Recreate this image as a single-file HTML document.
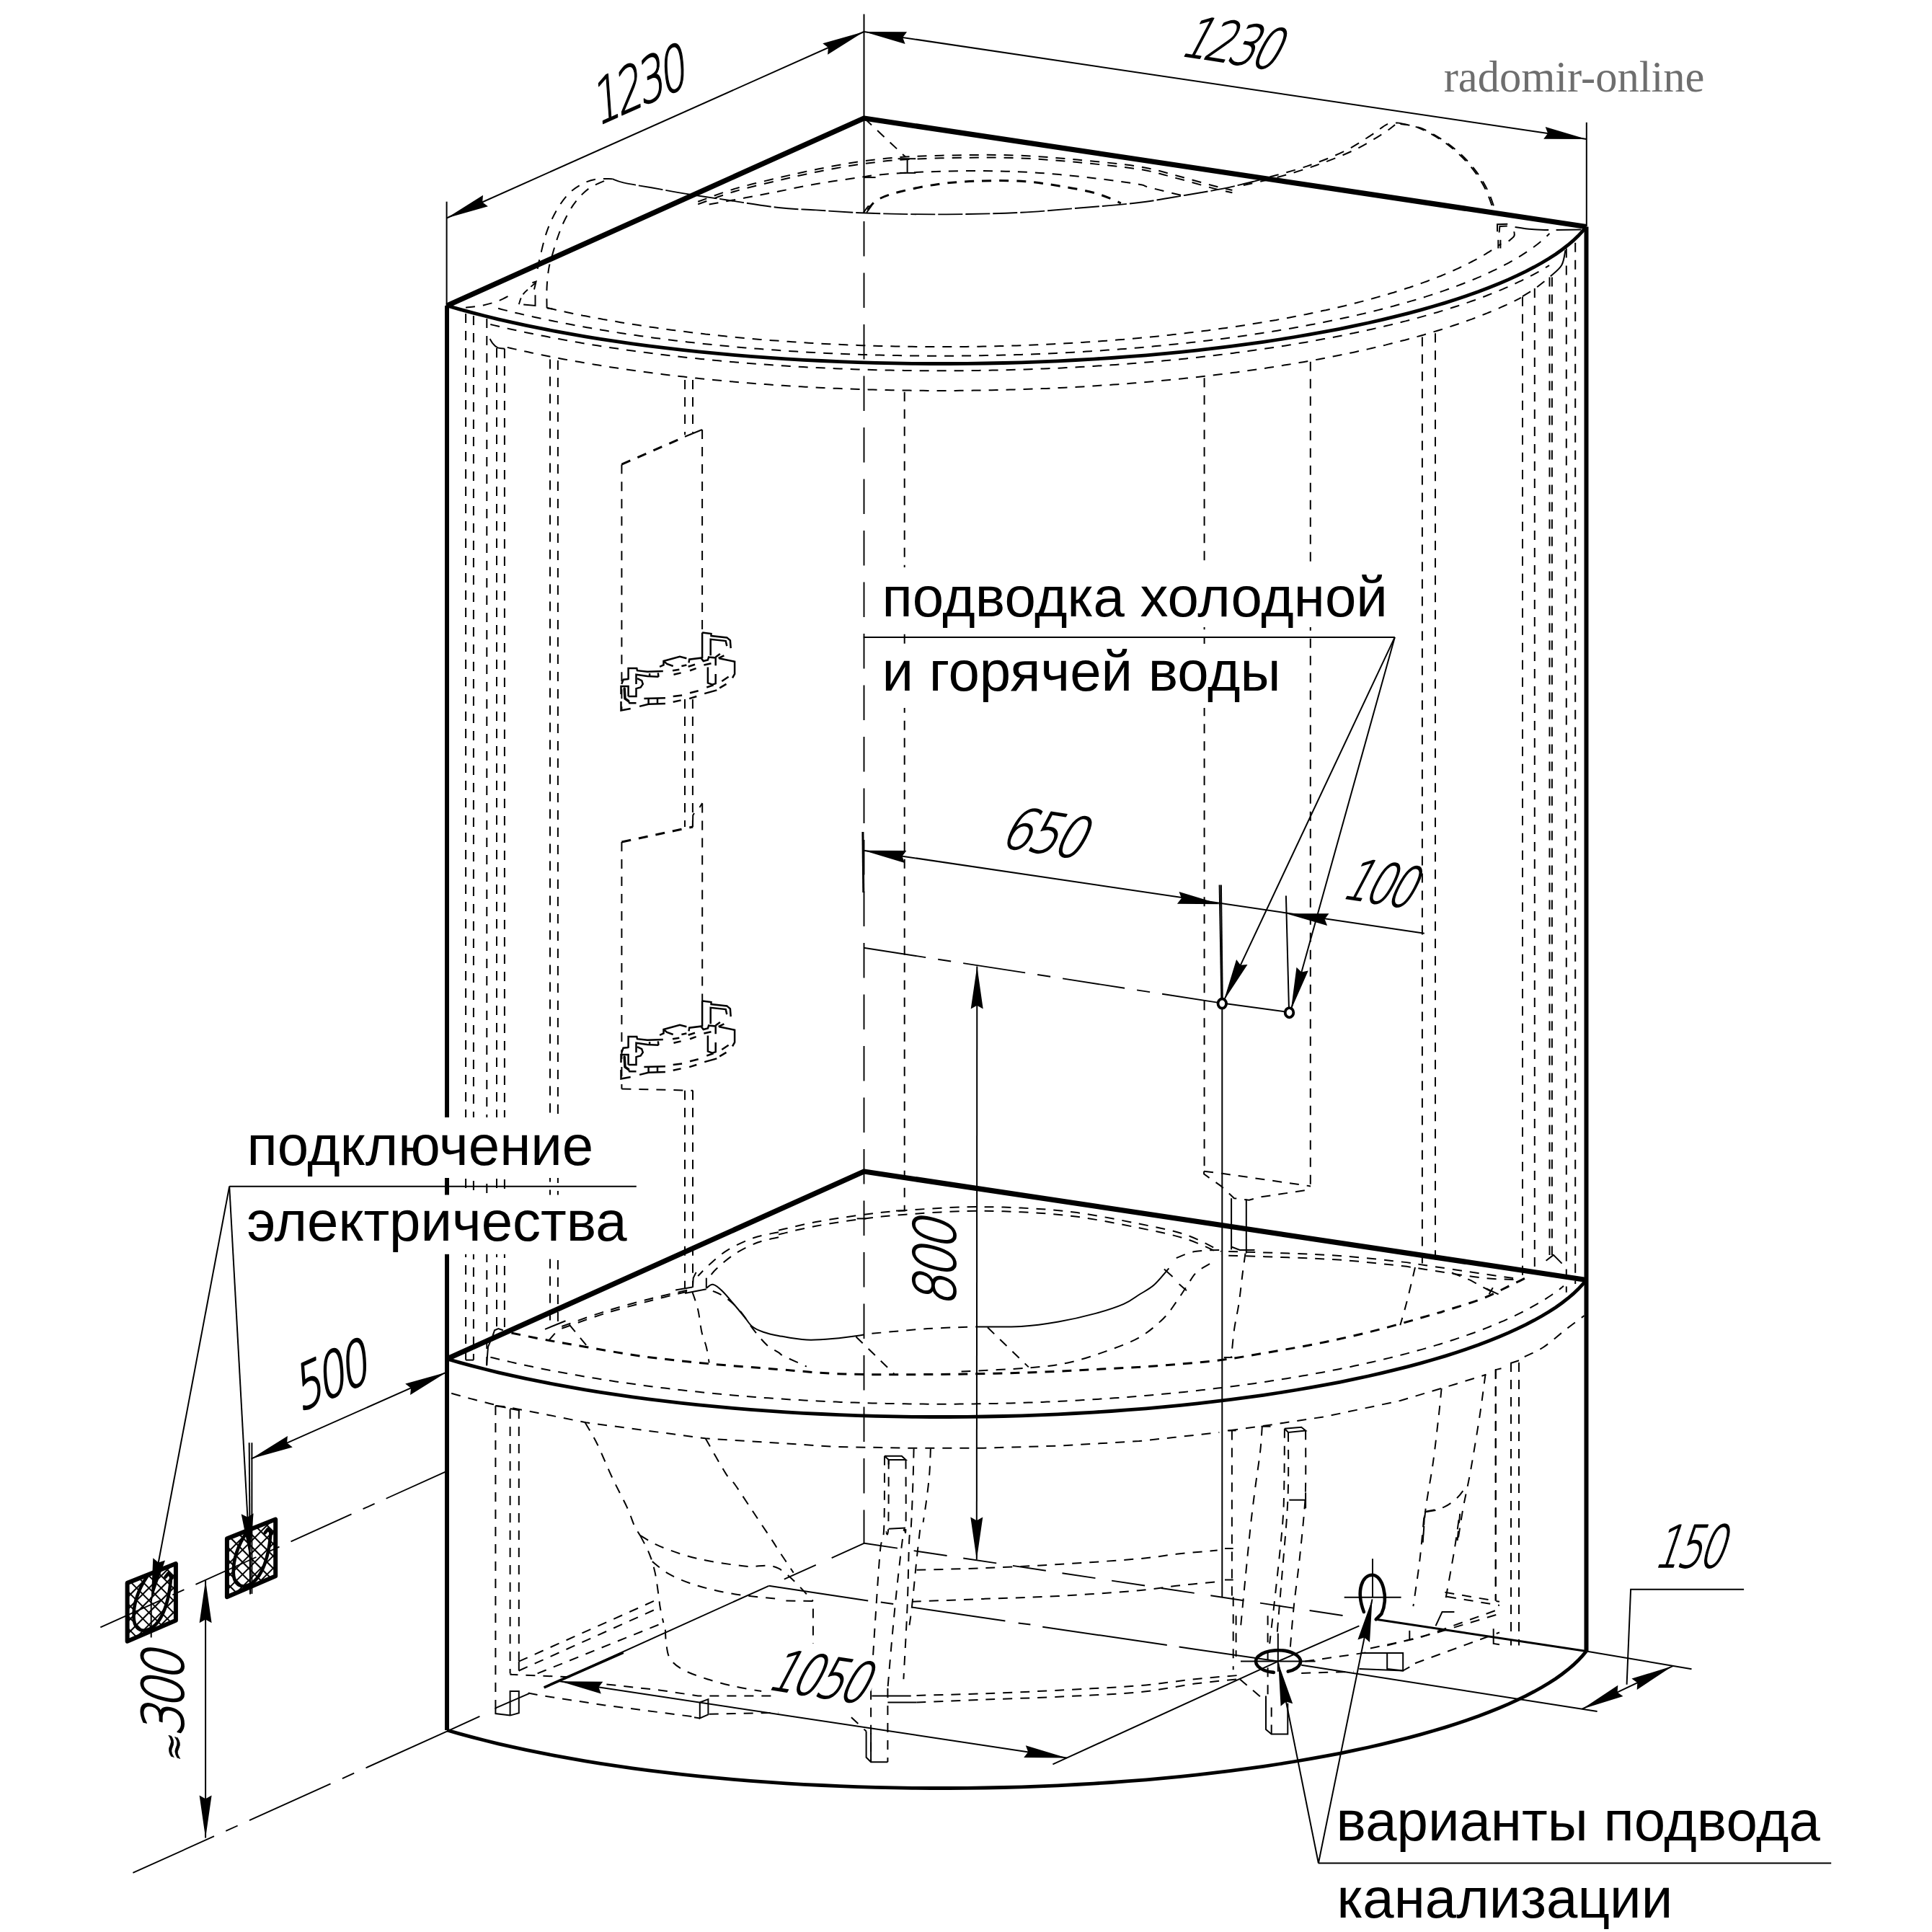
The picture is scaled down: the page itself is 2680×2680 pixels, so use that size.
<!DOCTYPE html>
<html><head><meta charset="utf-8"><title>radomir-online</title>
<style>
html,body{margin:0;padding:0;background:#fff;}
svg{display:block}
.K{fill:none;stroke:#000;stroke-width:6;stroke-linejoin:round;stroke-linecap:butt}
.KS{fill:none;stroke:#000;stroke-width:7.2;stroke-linejoin:round}
.KA{fill:none;stroke:#000;stroke-width:4.8}
.T{fill:none;stroke:#000;stroke-width:2}
.DL{fill:none;stroke:#000;stroke-width:1.9;stroke-dasharray:34 4}
.DS{fill:none;stroke:#000;stroke-width:1.9;stroke-dasharray:9 6}
.M{fill:none;stroke:#000;stroke-width:3.5;stroke-linecap:round;stroke-linejoin:round}
.D{fill:none;stroke:#000;stroke-width:2;stroke-dasharray:13 11}
.DB{fill:none;stroke:#000;stroke-width:3;stroke-dasharray:13 11}
.C{fill:none;stroke:#000;stroke-width:1.9;stroke-dasharray:48.5 23}
.T2{fill:none;stroke:#000;stroke-width:3}
.T3{fill:none;stroke:#000;stroke-width:3.6}
.C2{fill:none;stroke:#000;stroke-width:1.9;stroke-dasharray:125 22}
.T25{fill:none;stroke:#000;stroke-width:2.5}
.M4{fill:none;stroke:#000;stroke-width:4.6;stroke-linecap:round}
.M5{fill:none;stroke:#000;stroke-width:4.6;stroke-linecap:round;stroke-linejoin:round}
.CS{fill:none;stroke:#000;stroke-width:1.9;stroke-dasharray:92.1 17.6 17.6 17.6}
.CF{fill:none;stroke:#000;stroke-width:1.9;stroke-dasharray:123.5 17.9 17.9 17.9}
.CL{fill:none;stroke:#000;stroke-width:1.9;stroke-dasharray:87 17.2 18.2 17.2}
.CW{fill:none;stroke:#000;stroke-width:1.9;stroke-dasharray:46.5 22.9}
.CU{fill:none;stroke:#000;stroke-width:1.9;stroke-dasharray:49.7 24}
.A{fill:#000;stroke:none}
.W{fill:#fff;stroke:none}
.lbl{font-family:"Liberation Sans",sans-serif;fill:#000}
.dim{font-family:"DejaVu Sans","DejaVu Sans Light",sans-serif;font-weight:200;fill:#000;stroke:#000;stroke-linejoin:round;vector-effect:non-scaling-stroke;text-rendering:geometricPrecision}
.wm{font-family:"Liberation Serif",serif;fill:#6e6e6e}
</style></head><body>
<svg width="2680" height="2680" viewBox="0 0 2680 2680">
<rect width="2680" height="2680" fill="#fff"/>
<path class="D" d="M745.6,372.9 C746.3,369.9 747.4,363.4 749.5,354.8 C751.7,346.2 754.9,331.5 758.6,321.2 C762.2,310.8 766.8,301.1 771.5,292.7 C776.3,284.3 781.4,276.7 787.0,270.7 C792.6,264.7 798.7,260.1 805.2,256.5 C811.6,252.8 818.5,250.1 825.9,248.7 C833.2,247.3 845.3,248.3 849.2,248.2"/>
<path class="D" d="M758.6,427.3 C758.6,422.5 758.1,407.9 758.6,398.8 C759.0,389.7 760.0,380.3 761.2,372.9 C762.4,365.6 763.9,361.7 765.8,354.8 C767.8,347.9 770.1,339.3 772.8,331.5 C775.5,323.7 778.2,316.0 781.9,308.2 C785.5,300.5 790.5,291.4 794.8,284.9 C799.1,278.5 803.4,273.7 807.7,269.4 C812.1,265.1 815.5,262.2 820.7,259.0 C825.9,255.9 835.8,252.1 838.8,250.8"/>
<path class="T" d="M758.6,427.3 L766.3,428.6"/>
<path class="T" d="M726.2,422.6 L742.5,423.9 L742.5,409.2"/>
<path class="DS" d="M719.8,422.1 C720.6,419.9 722.3,413.0 724.9,409.2 C727.5,405.3 732.3,401.6 735.3,398.8 C738.3,396.0 741.7,393.4 743.0,392.3"/>
<path class="T" d="M738.4,392.3 L743.6,390.5 L741.0,401.4"/>
<path class="D" d="M646.0,426.7 C650.1,426.2 663.0,424.9 670.6,423.4 C678.1,421.8 685.0,419.8 691.3,417.4 C697.5,415.1 705.3,410.5 708.1,409.2"/>
<path class="DL" d="M849.2,248.2 C851.7,249.0 855.6,251.3 864.7,253.4 C873.7,255.4 888.4,257.7 903.5,260.3 C918.6,263.0 938.0,266.6 955.3,269.4 C972.5,272.2 986.2,274.1 1007.0,277.2 C1027.8,280.3 1059.2,285.7 1080.0,288.0 C1100.8,290.4 1112.8,290.2 1131.8,291.4 C1150.7,292.6 1172.3,294.3 1193.9,295.3 C1215.4,296.2 1237.0,296.8 1261.2,297.1 C1285.3,297.4 1312.9,297.5 1338.8,297.1 C1364.7,296.7 1390.6,296.1 1416.4,294.8 C1442.3,293.4 1466.8,291.1 1494.1,288.8 C1521.3,286.5 1554.9,284.1 1580.0,281.0 C1605.1,278.0 1625.3,273.9 1644.7,270.7 C1664.1,267.5 1680.5,264.9 1696.5,261.6 C1712.4,258.4 1729.7,254.0 1740.5,251.3 C1751.2,248.6 1757.7,246.5 1761.2,245.6"/>
<path class="D" d="M968.2,279.8 C976.8,276.7 1001.3,267.2 1020.0,261.6 C1038.6,256.1 1063.5,250.6 1080.0,246.6 C1096.5,242.7 1105.9,240.6 1118.8,237.8 C1131.8,235.1 1144.3,232.5 1157.6,230.1 C1171.0,227.6 1182.7,225.4 1199.0,223.3 C1215.4,221.3 1232.7,219.0 1256.0,217.6 C1279.3,216.3 1312.1,215.4 1338.8,215.1 C1365.5,214.7 1390.6,214.7 1416.4,215.8 C1442.3,216.9 1466.8,219.0 1494.1,221.5 C1521.3,224.1 1557.1,227.4 1580.0,231.1 C1602.9,234.8 1614.5,239.1 1631.8,243.5 C1649.0,248.0 1670.6,254.4 1683.5,257.8 C1696.5,261.1 1705.1,262.7 1709.4,263.7"/>
<path class="D" d="M968.2,283.4 C976.8,280.4 1001.3,270.8 1020.0,265.3 C1038.6,259.7 1063.5,254.2 1080.0,250.2 C1096.5,246.3 1105.9,244.2 1118.8,241.4 C1131.8,238.7 1144.3,236.1 1157.6,233.7 C1171.0,231.3 1182.7,229.0 1199.0,227.0 C1215.4,224.9 1232.7,222.6 1256.0,221.3 C1279.3,219.9 1312.1,219.0 1338.8,218.7 C1365.5,218.4 1390.6,218.4 1416.4,219.5 C1442.3,220.5 1466.8,222.6 1494.1,225.1 C1521.3,227.7 1557.1,231.1 1580.0,234.7 C1602.9,238.4 1614.5,242.7 1631.8,247.1 C1649.0,251.6 1670.6,258.0 1683.5,261.4 C1696.5,264.7 1705.1,266.3 1709.4,267.3"/>
<path class="D" d="M983.7,283.6 C991.9,282.1 1016.9,277.6 1032.9,274.6 C1048.9,271.6 1063.5,268.8 1080.0,265.5 C1096.5,262.3 1113.6,258.3 1131.8,255.2 C1149.9,252.0 1173.6,248.8 1188.7,246.6 C1203.8,244.5 1205.9,243.6 1222.3,242.2 C1238.7,240.8 1263.3,239.2 1287.0,238.3 C1310.8,237.5 1338.8,236.8 1364.7,237.0 C1390.6,237.3 1416.4,238.2 1442.3,239.9 C1468.2,241.6 1497.0,244.8 1520.0,247.4 C1542.9,250.0 1567.8,253.7 1580.0,255.7 C1592.2,257.7 1582.2,256.8 1592.9,259.6 C1603.7,262.4 1636.1,270.3 1644.7,272.5"/>
<path class="T" d="M1199.0,246.1 L1214.6,246.1"/>
<path class="D" d="M1199.6,164.6 L1256.0,217.6"/>
<path class="T" d="M1258.6,220.2 L1258.6,239.6"/>
<path class="T" d="M1245.6,220.2 L1270.2,220.2"/>
<path class="T" d="M1248.2,239.9 L1270.2,239.9"/>
<path class="DB" d="M1203.7,291.4 C1205.9,289.0 1209.7,281.4 1217.2,277.2 C1224.6,272.9 1234.4,269.6 1248.2,266.0 C1262.0,262.5 1282.7,258.1 1300.0,255.7 C1317.2,253.2 1332.3,252.0 1351.7,251.3 C1371.1,250.6 1397.0,250.2 1416.4,251.3 C1435.8,252.4 1450.9,254.9 1468.2,257.8 C1485.5,260.6 1505.5,264.1 1520.0,268.1 C1534.4,272.1 1549.1,279.5 1554.9,281.8"/>
<path class="T" d="M1197.8,294.8 L1204.2,286.2 L1208.1,286.2 L1202.2,294.8"/>
<path class="D" d="M1761.2,245.6 C1769.8,243.1 1795.7,236.5 1812.9,230.6 C1830.2,224.6 1849.6,217.2 1864.7,209.9 C1879.8,202.5 1893.6,192.8 1903.5,186.6 C1913.4,180.3 1918.1,175.0 1924.2,172.3 C1930.3,169.7 1937.6,170.8 1940.2,170.5"/>
<path class="D" d="M1724.9,257.0 C1732.7,255.2 1754.7,250.7 1771.5,246.1 C1788.3,241.5 1808.2,235.5 1825.9,229.3 C1843.5,223.0 1862.5,215.7 1877.6,208.6 C1892.7,201.5 1906.9,192.5 1916.4,186.6 C1926.0,180.7 1932.0,175.4 1935.1,173.1"/>
<path class="D" d="M1940.2,170.5 C1944.9,171.7 1958.4,173.6 1968.2,177.5 C1978.0,181.5 1989.8,188.1 1999.3,194.3 C2008.7,200.6 2017.4,207.7 2025.1,215.1 C2032.9,222.4 2039.8,230.1 2045.8,238.3 C2051.9,246.5 2057.1,255.4 2061.4,264.2 C2065.7,273.1 2070.0,286.9 2071.7,291.4"/>
<path class="D" d="M1942.6,171.9 C1947.2,172.9 1960.7,173.8 1970.5,177.5 C1980.4,181.3 1992.1,188.1 2001.6,194.3 C2011.1,200.6 2019.7,207.7 2027.5,215.1 C2035.2,222.4 2042.1,230.1 2048.2,238.3 C2054.2,246.5 2059.4,255.4 2063.7,264.2 C2068.0,273.1 2072.3,286.9 2074.0,291.4"/>
<path class="T" d="M2077.0,321.2 L2077.0,311.3 L2091.3,310.8"/>
<path class="T" d="M2079.6,322.5 L2080.4,313.9 L2090.8,313.4"/>
<path class="T" d="M2078.3,332.8 L2078.3,344.5"/>
<path class="T" d="M2081.4,332.8 L2081.4,344.5"/>
<path class="T" d="M2100.3,321.2 C2100.3,322.2 2101.6,325.4 2100.3,327.6 C2099.0,329.9 2093.9,333.5 2092.6,334.6"/>
<path class="T" d="M2101.6,314.9 C2105.5,315.5 2117.2,317.4 2124.9,318.1 C2132.7,318.7 2144.3,318.9 2148.2,319.1"/>
<path class="T" d="M2158.6,319.1 L2193.5,318.6"/>
<path class="D" d="M759.1,427.1 L763.5,428.1 L767.9,429.1 L772.3,430.1 L776.7,431.1 L781.2,432.0 L785.7,433.0 L790.2,434.0 L794.7,434.9 L799.3,435.8 L803.9,436.7 L808.5,437.7 L813.2,438.6 L817.8,439.5 L822.5,440.4 L827.2,441.2 L832.0,442.1 L836.7,443.0 L841.5,443.8 L846.3,444.7 L851.1,445.5 L856.0,446.3 L860.9,447.2 L865.8,448.0 L870.7,448.8 L875.6,449.6 L880.6,450.3 L885.6,451.1 L890.6,451.9 L895.6,452.6 L900.6,453.4 L905.7,454.1 L910.8,454.8 L915.9,455.6 L921.0,456.3 L926.1,457.0 L931.3,457.7 L936.5,458.3 L941.7,459.0 L946.9,459.7 L952.1,460.3 L957.4,461.0 L962.7,461.6 L967.9,462.2 L973.2,462.8 L978.6,463.5 L983.9,464.0 L989.2,464.6 L994.6,465.2 L1000.0,465.8 L1005.4,466.3 L1010.8,466.9 L1016.2,467.4 L1021.7,467.9 L1027.1,468.4 L1032.6,469.0 L1038.1,469.4 L1043.6,469.9 L1049.1,470.4 L1054.6,470.9 L1060.1,471.3 L1065.7,471.8 L1071.2,472.2 L1076.8,472.6 L1082.4,473.0 L1088.0,473.5 L1093.6,473.8 L1099.2,474.2 L1104.8,474.6 L1110.5,475.0 L1116.1,475.3 L1121.8,475.7 L1127.4,476.0 L1133.1,476.3 L1138.8,476.6 L1144.5,476.9 L1150.2,477.2 L1155.9,477.5 L1161.6,477.8 L1167.3,478.0 L1173.0,478.3 L1178.7,478.5 L1184.5,478.7 L1190.2,479.0 L1196.0,479.2 L1201.7,479.4 L1207.5,479.5 L1213.3,479.7 L1219.0,479.9 L1224.8,480.0 L1230.6,480.2 L1236.4,480.3 L1242.1,480.4 L1247.9,480.6 L1253.7,480.7 L1259.5,480.7 L1265.3,480.8 L1271.1,480.9 L1276.9,481.0 L1282.7,481.0 L1288.5,481.0 L1294.3,481.1 L1300.1,481.1 L1305.9,481.1 L1311.7,481.1 L1317.5,481.1 L1323.3,481.0 L1329.1,481.0 L1334.9,481.0 L1340.7,480.9 L1346.5,480.8 L1352.3,480.7 L1358.1,480.7 L1363.9,480.6 L1369.7,480.4 L1375.5,480.3 L1381.2,480.2 L1387.0,480.0 L1392.8,479.9 L1398.6,479.7 L1404.3,479.6 L1410.1,479.4 L1415.8,479.2 L1421.6,479.0 L1427.3,478.8 L1433.1,478.5 L1438.8,478.3 L1444.5,478.0 L1450.2,477.8 L1455.9,477.5 L1461.6,477.2 L1467.3,476.9 L1473.0,476.6 L1478.7,476.3 L1484.4,476.0 L1490.0,475.7 L1495.7,475.3 L1501.3,475.0 L1506.9,474.6 L1512.6,474.2 L1518.2,473.9 L1523.8,473.5 L1529.4,473.1 L1534.9,472.7 L1540.5,472.2 L1546.1,471.8 L1551.6,471.3 L1557.1,470.9 L1562.7,470.4 L1568.2,470.0 L1573.7,469.5 L1579.1,469.0 L1584.6,468.5 L1590.1,468.0 L1595.5,467.4 L1600.9,466.9 L1606.3,466.4 L1611.7,465.8 L1617.1,465.2 L1622.5,464.7 L1627.8,464.1 L1633.1,463.5 L1638.4,462.9 L1643.7,462.3 L1649.0,461.6 L1654.3,461.0 L1659.5,460.4 L1664.8,459.7 L1670.0,459.1 L1675.2,458.4 L1680.3,457.7 L1685.5,457.0 L1690.6,456.3 L1695.8,455.6 L1700.9,454.9 L1705.9,454.2 L1711.0,453.4 L1716.0,452.7 L1721.0,451.9 L1726.0,451.2 L1731.0,450.4 L1736.0,449.6 L1740.9,448.8 L1745.8,448.0 L1750.7,447.2 L1755.6,446.4 L1760.4,445.5 L1765.2,444.7 L1770.1,443.9 L1774.8,443.0 L1779.6,442.1 L1784.3,441.3 L1789.0,440.4 L1793.7,439.5 L1798.4,438.6 L1803.0,437.7 L1807.6,436.8 L1812.2,435.9 L1816.7,434.9 L1821.3,434.0 L1825.8,433.1 L1830.3,432.1 L1834.7,431.1 L1839.2,430.2 L1843.6,429.2 L1847.9,428.2 L1852.3,427.2 L1856.6,426.2 L1860.9,425.2 L1865.2,424.2 L1869.4,423.1 L1873.6,422.1 L1877.8,421.0 L1882.0,420.0 L1886.1,418.9 L1890.2,417.9 L1894.2,416.8 L1898.3,415.7 L1902.3,414.6 L1906.3,413.5 L1910.2,412.4 L1914.1,411.3 L1918.0,410.2 L1921.9,409.1 L1925.7,408.0 L1929.5,406.8 L1933.3,405.7 L1937.0,404.5 L1940.7,403.4 L1944.4,402.2 L1948.0,401.0 L1951.6,399.8 L1955.2,398.7 L1958.8,397.5 L1962.3,396.3 L1965.7,395.1 L1969.2,393.8 L1972.6,392.6 L1976.0,391.4 L1979.3,390.2 L1982.6,388.9 L1985.9,387.7 L1989.2,386.4 L1992.4,385.2 L1995.6,383.9 L1998.7,382.7 L2001.8,381.4 L2004.9,380.1 L2007.9,378.8 L2010.9,377.5 L2013.9,376.3 L2016.8,375.0 L2019.7,373.6 L2022.6,372.3 L2025.4,371.0 L2028.2,369.7 L2031.0,368.4 L2033.7,367.0 L2036.4,365.7 L2039.0,364.4 L2041.6,363.0 L2044.2,361.7 L2046.7,360.3 L2049.2,359.0 L2051.7,357.6 L2054.1,356.2 L2056.5,354.9 L2058.9,353.5 L2061.2,352.1 L2063.4,350.7 L2065.7,349.3 L2067.9,347.9 L2070.0,346.5 L2072.2,345.1 L2074.3,343.7 L2076.3,342.3 L2078.3,340.9 L2080.3,339.5 L2082.2,338.1"/>
<path class="D" d="M691.1,427.8 L695.4,429.0 L699.8,430.1 L704.3,431.2 L708.7,432.3 L713.2,433.4 L717.8,434.4 L722.3,435.5 L726.9,436.6 L731.5,437.6 L736.2,438.7 L740.8,439.7 L745.5,440.7 L750.3,441.8 L755.0,442.8 L759.8,443.8 L764.6,444.8 L769.4,445.8 L774.3,446.7 L779.2,447.7 L784.1,448.7 L789.0,449.6 L794.0,450.6 L799.0,451.5 L804.0,452.4 L809.1,453.3 L814.1,454.2 L819.2,455.1 L824.3,456.0 L829.5,456.9 L834.6,457.8 L839.8,458.6 L845.0,459.5 L850.3,460.3 L855.5,461.1 L860.8,462.0 L866.1,462.8 L871.4,463.6 L876.8,464.4 L882.1,465.1 L887.5,465.9 L892.9,466.7 L898.3,467.4 L903.8,468.2 L909.2,468.9 L914.7,469.6 L920.2,470.3 L925.8,471.0 L931.3,471.7 L936.9,472.4 L942.4,473.1 L948.0,473.7 L953.7,474.4 L959.3,475.0 L964.9,475.7 L970.6,476.3 L976.3,476.9 L982.0,477.5 L987.7,478.1 L993.4,478.6 L999.2,479.2 L1004.9,479.8 L1010.7,480.3 L1016.5,480.9 L1022.3,481.4 L1028.1,481.9 L1034.0,482.4 L1039.8,482.9 L1045.7,483.4 L1051.6,483.8 L1057.4,484.3 L1063.3,484.8 L1069.3,485.2 L1075.2,485.6 L1081.1,486.0 L1087.1,486.4 L1093.0,486.8 L1099.0,487.2 L1104.9,487.6 L1110.9,488.0 L1116.9,488.3 L1122.9,488.7 L1129.0,489.0 L1135.0,489.3 L1141.0,489.6 L1147.0,489.9 L1153.1,490.2 L1159.2,490.5 L1165.2,490.7 L1171.3,491.0 L1177.4,491.2 L1183.4,491.5 L1189.5,491.7 L1195.6,491.9 L1201.7,492.1 L1207.8,492.3 L1213.9,492.4 L1220.1,492.6 L1226.2,492.7 L1232.3,492.9 L1238.4,493.0 L1244.5,493.1 L1250.7,493.2 L1256.8,493.3 L1263.0,493.4 L1269.1,493.5 L1275.2,493.6 L1281.4,493.6 L1287.5,493.7 L1293.7,493.7 L1299.8,493.7 L1306.0,493.7 L1312.1,493.7 L1318.2,493.7 L1324.4,493.7 L1330.5,493.6 L1336.7,493.6 L1342.8,493.5 L1349.0,493.4 L1355.1,493.3 L1361.2,493.2 L1367.4,493.1 L1373.5,493.0 L1379.6,492.9 L1385.7,492.8 L1391.9,492.6 L1398.0,492.4 L1404.1,492.3 L1410.2,492.1 L1416.3,491.9 L1422.4,491.7 L1428.5,491.5 L1434.5,491.2 L1440.6,491.0 L1446.7,490.7 L1452.7,490.5 L1458.8,490.2 L1464.8,489.9 L1470.9,489.6 L1476.9,489.3 L1482.9,489.0 L1488.9,488.7 L1494.9,488.3 L1500.9,488.0 L1506.9,487.6 L1512.9,487.2 L1518.9,486.9 L1524.8,486.5 L1530.8,486.1 L1536.7,485.6 L1542.6,485.2 L1548.5,484.8 L1554.4,484.3 L1560.3,483.9 L1566.2,483.4 L1572.0,482.9 L1577.9,482.4 L1583.7,481.9 L1589.5,481.4 L1595.3,480.9 L1601.1,480.3 L1606.9,479.8 L1612.6,479.2 L1618.4,478.7 L1624.1,478.1 L1629.8,477.5 L1635.5,476.9 L1641.2,476.3 L1646.8,475.7 L1652.5,475.1 L1658.1,474.4 L1663.7,473.8 L1669.3,473.1 L1674.9,472.4 L1680.5,471.8 L1686.0,471.1 L1691.5,470.4 L1697.0,469.7 L1702.5,468.9 L1708.0,468.2 L1713.4,467.5 L1718.8,466.7 L1724.2,466.0 L1729.6,465.2 L1734.9,464.4 L1740.3,463.6 L1745.6,462.8 L1750.9,462.0 L1756.2,461.2 L1761.4,460.4 L1766.6,459.5 L1771.8,458.7 L1777.0,457.8 L1782.2,456.9 L1787.3,456.1 L1792.4,455.2 L1797.5,454.3 L1802.6,453.4 L1807.6,452.5 L1812.6,451.5 L1817.6,450.6 L1822.5,449.7 L1827.5,448.7 L1832.4,447.8 L1837.3,446.8 L1842.1,445.8 L1846.9,444.8 L1851.7,443.8 L1856.5,442.8 L1861.3,441.8 L1866.0,440.8 L1870.7,439.8 L1875.3,438.7 L1880.0,437.7 L1884.6,436.6 L1889.2,435.6 L1893.7,434.5 L1898.2,433.4 L1902.7,432.3 L1907.2,431.2 L1911.6,430.1 L1916.0,429.0 L1920.4,427.9 L1924.7,426.8 L1929.0,425.6 L1933.3,424.5 L1937.5,423.3 L1941.8,422.2 L1945.9,421.0 L1950.1,419.8 L1954.2,418.6 L1958.3,417.4 L1962.3,416.3 L1966.4,415.0 L1970.4,413.8 L1974.3,412.6 L1978.2,411.4 L1982.1,410.1 L1986.0,408.9 L1989.8,407.7 L1993.6,406.4 L1997.3,405.1 L2001.1,403.9 L2004.7,402.6 L2008.4,401.3 L2012.0,400.0 L2015.6,398.7 L2019.1,397.4 L2022.6,396.1 L2026.1,394.8 L2029.5,393.5 L2032.9,392.1 L2036.3,390.8 L2039.6,389.5 L2042.9,388.1 L2046.2,386.8 L2049.4,385.4 L2052.6,384.1 L2055.7,382.7 L2058.8,381.3 L2061.9,379.9 L2064.9,378.5 L2067.9,377.1 L2070.9,375.7 L2073.8,374.3 L2076.7,372.9 L2079.5,371.5 L2082.3,370.1 L2085.1,368.7 L2087.8,367.2 L2090.5,365.8 L2093.2,364.4 L2095.8,362.9 L2098.3,361.5 L2100.9,360.0 L2103.4,358.6 L2105.8,357.1 L2108.2,355.6 L2110.6,354.2 L2112.9,352.7 L2115.2,351.2 L2117.5,349.7 L2119.7,348.2 L2121.8,346.7 L2124.0,345.2 L2126.1,343.7 L2128.1,342.2 L2130.1,340.7 L2132.1,339.2 L2134.0,337.7 L2135.9,336.2 L2137.7,334.7 L2139.5,333.1 L2141.3,331.6 L2143.0,330.1 L2144.7,328.6 L2146.3,327.0 L2147.9,325.5 L2149.4,323.9"/>
<path class="D" d="M680.3,450.0 L685.0,451.1 L689.7,452.2 L694.5,453.3 L699.3,454.5 L704.1,455.6 L709.0,456.7 L713.9,457.8 L718.8,458.8 L723.8,459.9 L728.7,461.0 L733.7,462.0 L738.8,463.1 L743.8,464.1 L748.9,465.1 L754.1,466.1 L759.2,467.1 L764.4,468.1 L769.6,469.1 L774.8,470.1 L780.1,471.1 L785.4,472.0 L790.7,473.0 L796.0,473.9 L801.4,474.8 L806.7,475.8 L812.2,476.7 L817.6,477.6 L823.0,478.5 L828.5,479.3 L834.0,480.2 L839.6,481.1 L845.1,481.9 L850.7,482.7 L856.3,483.6 L861.9,484.4 L867.5,485.2 L873.2,486.0 L878.9,486.8 L884.6,487.6 L890.3,488.3 L896.1,489.1 L901.8,489.8 L907.6,490.6 L913.4,491.3 L919.3,492.0 L925.1,492.7 L931.0,493.4 L936.9,494.1 L942.8,494.7 L948.7,495.4 L954.6,496.1 L960.6,496.7 L966.5,497.3 L972.5,497.9 L978.5,498.5 L984.6,499.1 L990.6,499.7 L996.7,500.3 L1002.7,500.9 L1008.8,501.4 L1014.9,501.9 L1021.0,502.5 L1027.1,503.0 L1033.3,503.5 L1039.4,504.0 L1045.6,504.5 L1051.8,504.9 L1058.0,505.4 L1064.2,505.8 L1070.4,506.3 L1076.6,506.7 L1082.9,507.1 L1089.1,507.5 L1095.4,507.9 L1101.7,508.3 L1107.9,508.7 L1114.2,509.0 L1120.5,509.4 L1126.8,509.7 L1133.2,510.0 L1139.5,510.3 L1145.8,510.6 L1152.2,510.9 L1158.5,511.2 L1164.9,511.5 L1171.3,511.7 L1177.6,512.0 L1184.0,512.2 L1190.4,512.4 L1196.8,512.6 L1203.2,512.8 L1209.6,513.0 L1216.0,513.2 L1222.4,513.3 L1228.8,513.5 L1235.2,513.6 L1241.7,513.7 L1248.1,513.8 L1254.5,513.9 L1260.9,514.0 L1267.4,514.1 L1273.8,514.2 L1280.2,514.2 L1286.7,514.3 L1293.1,514.3 L1299.6,514.3 L1306.0,514.3 L1312.4,514.3 L1318.9,514.3 L1325.3,514.3 L1331.8,514.2 L1338.2,514.2 L1344.6,514.1 L1351.1,514.0 L1357.5,513.9 L1363.9,513.8 L1370.3,513.7 L1376.8,513.6 L1383.2,513.5 L1389.6,513.3 L1396.0,513.2 L1402.4,513.0 L1408.8,512.8 L1415.2,512.6 L1421.6,512.4 L1428.0,512.2 L1434.4,512.0 L1440.7,511.7 L1447.1,511.5 L1453.4,511.2 L1459.8,510.9 L1466.1,510.7 L1472.5,510.4 L1478.8,510.0 L1485.1,509.7 L1491.4,509.4 L1497.7,509.0 L1504.0,508.7 L1510.3,508.3 L1516.6,507.9 L1522.8,507.5 L1529.1,507.1 L1535.3,506.7 L1541.5,506.3 L1547.7,505.9 L1554.0,505.4 L1560.1,505.0 L1566.3,504.5 L1572.5,504.0 L1578.6,503.5 L1584.8,503.0 L1590.9,502.5 L1597.0,502.0 L1603.1,501.4 L1609.2,500.9 L1615.2,500.3 L1621.3,499.7 L1627.3,499.2 L1633.3,498.6 L1639.3,498.0 L1645.3,497.4 L1651.3,496.7 L1657.2,496.1 L1663.2,495.4 L1669.1,494.8 L1675.0,494.1 L1680.9,493.4 L1686.7,492.7 L1692.6,492.0 L1698.4,491.3 L1704.2,490.6 L1710.0,489.9 L1715.7,489.1 L1721.5,488.4 L1727.2,487.6 L1732.9,486.8 L1738.6,486.0 L1744.2,485.2 L1749.9,484.4 L1755.5,483.6 L1761.1,482.8 L1766.6,482.0 L1772.2,481.1 L1777.7,480.2 L1783.2,479.4 L1788.7,478.5 L1794.1,477.6 L1799.6,476.7 L1805.0,475.8 L1810.3,474.9 L1815.7,474.0 L1821.0,473.0 L1826.3,472.1 L1831.6,471.1 L1836.8,470.1 L1842.1,469.2 L1847.3,468.2 L1852.4,467.2 L1857.6,466.2 L1862.7,465.2 L1867.8,464.1 L1872.8,463.1 L1877.9,462.1 L1882.9,461.0 L1887.8,460.0 L1892.8,458.9 L1897.7,457.8 L1902.6,456.7 L1907.4,455.6 L1912.3,454.5 L1917.1,453.4 L1921.8,452.3 L1926.6,451.1 L1931.3,450.0 L1935.9,448.9 L1940.6,447.7 L1945.2,446.5 L1949.8,445.4 L1954.3,444.2 L1958.8,443.0 L1963.3,441.8 L1967.8,440.6 L1972.2,439.4 L1976.6,438.1 L1980.9,436.9 L1985.2,435.7 L1989.5,434.4 L1993.8,433.2 L1998.0,431.9 L2002.1,430.6 L2006.3,429.4 L2010.4,428.1 L2014.5,426.8 L2018.5,425.5 L2022.5,424.2 L2026.5,422.8 L2030.4,421.5 L2034.3,420.2 L2038.2,418.9 L2042.0,417.5 L2045.8,416.2 L2049.5,414.8 L2053.2,413.4 L2056.9,412.1 L2060.6,410.7 L2064.2,409.3 L2067.7,407.9 L2071.2,406.5 L2074.7,405.1 L2078.2,403.7 L2081.6,402.3 L2085.0,400.9 L2088.3,399.4 L2091.6,398.0 L2094.8,396.6 L2098.1,395.1 L2101.2,393.6 L2104.4,392.2 L2107.5,390.7 L2110.5,389.3 L2113.6,387.8 L2116.5,386.3 L2119.5,384.8 L2122.4,383.3 L2125.2,381.8 L2128.0,380.3 L2130.8,378.8 L2133.5,377.3 L2136.2,375.8 L2138.9,374.3 L2141.5,372.7 L2144.1,371.2 L2146.6,369.7 L2149.1,368.1"/>
<path class="D" d="M703.8,481.9 L708.5,483.0 L713.3,484.1 L718.0,485.1 L722.9,486.2 L727.7,487.3 L732.6,488.3 L737.5,489.4 L742.4,490.4 L747.4,491.4 L752.4,492.5 L757.4,493.5 L762.4,494.5 L767.5,495.5 L772.6,496.4 L777.7,497.4 L782.9,498.4 L788.1,499.3 L793.3,500.3 L798.5,501.2 L803.7,502.1 L809.0,503.0 L814.3,503.9 L819.6,504.8 L825.0,505.7 L830.4,506.6 L835.8,507.5 L841.2,508.3 L846.6,509.2 L852.1,510.0 L857.6,510.8 L863.1,511.6 L868.6,512.4 L874.2,513.2 L879.8,514.0 L885.4,514.8 L891.0,515.6 L896.6,516.3 L902.3,517.1 L908.0,517.8 L913.7,518.5 L919.4,519.2 L925.1,519.9 L930.9,520.6 L936.7,521.3 L942.5,522.0 L948.3,522.6 L954.1,523.3 L959.9,523.9 L965.8,524.6 L971.7,525.2 L977.6,525.8 L983.5,526.4 L989.4,527.0 L995.4,527.5 L1001.3,528.1 L1007.3,528.7 L1013.3,529.2 L1019.3,529.7 L1025.3,530.2 L1031.4,530.8 L1037.4,531.3 L1043.5,531.7 L1049.6,532.2 L1055.6,532.7 L1061.7,533.1 L1067.8,533.6 L1074.0,534.0 L1080.1,534.4 L1086.3,534.8 L1092.4,535.2 L1098.6,535.6 L1104.8,536.0 L1110.9,536.3 L1117.1,536.7 L1123.3,537.0 L1129.6,537.4 L1135.8,537.7 L1142.0,538.0 L1148.3,538.3 L1154.5,538.6 L1160.8,538.8 L1167.0,539.1 L1173.3,539.4 L1179.6,539.6 L1185.8,539.8 L1192.1,540.0 L1198.4,540.2 L1204.7,540.4 L1211.0,540.6 L1217.3,540.8 L1223.7,540.9 L1230.0,541.1 L1236.3,541.2 L1242.6,541.3 L1248.9,541.4 L1255.3,541.5 L1261.6,541.6 L1267.9,541.7 L1274.3,541.8 L1280.6,541.8 L1287.0,541.9 L1293.3,541.9 L1299.6,541.9 L1306.0,541.9 L1312.3,541.9 L1318.7,541.9 L1325.0,541.9 L1331.3,541.8 L1337.7,541.8 L1344.0,541.7 L1350.4,541.6 L1356.7,541.5 L1363.0,541.4 L1369.3,541.3 L1375.7,541.2 L1382.0,541.1 L1388.3,540.9 L1394.6,540.8 L1400.9,540.6 L1407.2,540.4 L1413.5,540.2 L1419.8,540.0 L1426.1,539.8 L1432.4,539.6 L1438.7,539.4 L1444.9,539.1 L1451.2,538.9 L1457.4,538.6 L1463.7,538.3 L1469.9,538.0 L1476.2,537.7 L1482.4,537.4 L1488.6,537.1 L1494.8,536.7 L1501.0,536.4 L1507.2,536.0 L1513.4,535.6 L1519.5,535.2 L1525.7,534.8 L1531.8,534.4 L1537.9,534.0 L1544.1,533.6 L1550.2,533.2 L1556.3,532.7 L1562.3,532.2 L1568.4,531.8 L1574.5,531.3 L1580.5,530.8 L1586.5,530.3 L1592.6,529.8 L1598.6,529.2 L1604.6,528.7 L1610.5,528.1 L1616.5,527.6 L1622.4,527.0 L1628.4,526.4 L1634.3,525.8 L1640.2,525.2 L1646.0,524.6 L1651.9,524.0 L1657.7,523.3 L1663.6,522.7 L1669.4,522.0 L1675.2,521.3 L1680.9,520.7 L1686.7,520.0 L1692.4,519.3 L1698.1,518.6 L1703.8,517.8 L1709.5,517.1 L1715.2,516.4 L1720.8,515.6 L1726.4,514.8 L1732.0,514.1 L1737.6,513.3 L1743.1,512.5 L1748.6,511.7 L1754.1,510.9 L1759.6,510.0 L1765.1,509.2 L1770.5,508.4 L1775.9,507.5 L1781.3,506.6 L1786.7,505.8 L1792.0,504.9 L1797.4,504.0 L1802.7,503.1 L1807.9,502.2 L1813.2,501.2 L1818.4,500.3 L1823.6,499.4 L1828.8,498.4 L1833.9,497.4 L1839.0,496.5 L1844.1,495.5 L1849.2,494.5 L1854.2,493.5 L1859.2,492.5 L1864.2,491.5 L1869.2,490.5 L1874.1,489.4 L1879.0,488.4 L1883.9,487.3 L1888.7,486.3 L1893.5,485.2 L1898.3,484.1 L1903.0,483.0 L1907.8,481.9 L1912.5,480.8 L1917.1,479.7 L1921.8,478.6 L1926.4,477.4 L1930.9,476.3 L1935.5,475.2 L1940.0,474.0 L1944.4,472.8 L1948.9,471.7 L1953.3,470.5 L1957.7,469.3 L1962.0,468.1 L1966.4,466.9 L1970.6,465.7 L1974.9,464.5 L1979.1,463.2 L1983.3,462.0 L1987.4,460.7 L1991.5,459.5 L1995.6,458.2 L1999.7,457.0 L2003.7,455.7 L2007.7,454.4 L2011.6,453.1 L2015.5,451.8 L2019.4,450.5 L2023.2,449.2 L2027.0,447.9 L2030.8,446.6 L2034.5,445.2 L2038.2,443.9 L2041.9,442.6 L2045.5,441.2 L2049.1,439.9 L2052.6,438.5 L2056.1,437.1 L2059.6,435.7 L2063.0,434.4 L2066.4,433.0 L2069.8,431.6 L2073.1,430.2 L2076.4,428.8 L2079.6,427.4 L2082.8,425.9 L2086.0,424.5 L2089.1,423.1 L2092.2,421.6 L2095.3,420.2 L2098.3,418.8 L2101.3,417.3 L2104.2,415.8 L2107.1,414.4 L2109.9,412.9"/>
<path class="T" d="M679.6,470.0 C680.3,471.0 681.8,474.4 683.5,476.4 C685.2,478.5 687.2,480.9 690.0,482.1 C692.8,483.3 698.6,483.4 700.3,483.7"/>
<path class="T" d="M2171.5,347.0 C2170.6,350.5 2169.8,361.7 2166.3,367.7 C2162.9,373.8 2153.4,380.7 2150.8,383.3"/>
<path class="D" d="M2112.0,411.2 L2128.8,400.9 L2149.5,384.6"/>
<path class="D" d="M646.1,435.0 L646.1,1886.6"/>
<path class="D" d="M656.9,438.0 L656.9,1886.6"/>
<path class="D" d="M675.3,442.0 L675.3,1894.0"/>
<path class="D" d="M689.0,483.0 L689.0,1845.0"/>
<path class="D" d="M699.9,484.0 L699.9,1845.0"/>
<path class="D" d="M763.0,498.4 L763.0,1838.7"/>
<path class="D" d="M773.9,500.0 L773.9,1835.0"/>
<path class="D" d="M1254.7,543.7 L1254.7,1679.5"/>
<path class="D" d="M1670.6,524.3 L1670.6,1624.7"/>
<path class="D" d="M1817.8,501.8 L1817.8,1649.3"/>
<path class="D" d="M1972.9,467.4 L1972.9,1752.8"/>
<path class="D" d="M1991.0,462.2 L1991.0,1752.8"/>
<path class="D" d="M2112.0,411.7 L2112.0,1769.0"/>
<path class="D" d="M2128.8,400.0 L2128.8,1759.0"/>
<path class="D" d="M2149.5,384.6 L2149.5,1741.0"/>
<path class="D" d="M2152.9,384.6 L2152.9,1741.0"/>
<path class="D" d="M2172.8,344.5 L2172.8,1792.7"/>
<path class="D" d="M2185.2,336.7 L2185.2,1781.0"/>
<path class="T" d="M646.1,1886.6 L656.9,1886.6"/>
<path class="T" d="M675.0,1894.3 L677.0,1868.4 L683.5,1852.9 L686.1,1845.2 L691.3,1843.1 L697.8,1845.2"/>
<path class="D" d="M950.1,526.9 L950.1,603.2"/>
<path class="D" d="M961.0,526.9 L961.0,600.0"/>
<path class="DB" d="M862.4,644.2 L950.0,605.8"/>
<path class="T" d="M950.0,605.8 L973.9,596.0"/>
<path class="D" d="M862.4,644.2 L862.4,985.0"/>
<path class="D" d="M974.1,596.0 L974.1,877.5"/>
<path class="D" d="M950.0,970.0 L950.0,1147.0"/>
<path class="D" d="M960.9,970.0 L960.9,1147.0"/>
<path class="T" d="M960.9,1147.0 L961.2,1131.0 L963.0,1128.0"/>
<path class="T" d="M974.2,1114.0 L970.5,1120.0"/>
<path class="DB" d="M862.4,1168.0 L961.2,1147.0"/>
<path class="D" d="M862.4,1168.0 L862.4,1510.4"/>
<path class="D" d="M974.2,1114.4 L974.2,1389.0"/>
<path class="D" d="M862.4,1510.4 L961.2,1512.7"/>
<path class="D" d="M950.0,1512.7 L950.0,1788.0"/>
<path class="D" d="M961.0,1512.7 L961.0,1786.0"/>
<path class="T25" d="M974.1,877.5 L974.1,913.2"/>
<path class="T25" d="M974.1,877.5 L986.5,879.0 L986.5,882.1 L1008.3,884.4 L1012.9,888.3 L1013.7,899.2"/>
<path class="T25" d="M985.7,909.3 L985.7,886.8 L1006.7,889.1 L1008.3,896.1"/>
<path class="T25" d="M915.1,924.8 L920.5,922.5 L920.5,917.0 L943.0,910.8 L952.4,913.2"/>
<path class="T25" d="M920.5,917.0 L925.2,920.9 L933.7,924.0"/>
<path class="T25" d="M955.5,919.4 L956.2,914.7 L972.5,912.7 L975.7,917.0 L981.9,915.5 L983.4,910.8"/>
<path class="T25" d="M997.4,913.2 L1019.1,917.8 L1019.1,934.9 L1016.0,940.3"/>
<path class="T25" d="M871.6,942.7 L871.6,927.1 L883.3,927.1 L884.0,930.2 L898.0,931.8 L919.8,931.0"/>
<path class="T25" d="M882.5,948.9 L882.5,935.7 L898.0,938.0 L913.5,938.8"/>
<path class="T25" d="M901.1,934.1 L901.1,938.8"/>
<path class="T25" d="M912.8,933.4 L913.5,938.8"/>
<path class="T25" d="M884.0,941.1 L890.2,944.2 L891.8,948.9 L888.7,953.5 L882.5,955.1 L882.5,966.0 L871.6,966.0"/>
<path class="T25" d="M862.3,948.9 L864.6,942.7 L871.6,941.9"/>
<path class="T25" d="M861.5,962.9 L861.5,952.0 L871.6,952.0 L871.6,966.0"/>
<path class="M" d="M866.2,955.1 L867.0,969.1 L871.6,972.2"/>
<path class="T25" d="M861.5,973.0 L861.5,985.4 L874.7,983.0"/>
<path class="T25" d="M871.6,972.2 L873.2,975.3 L882.5,975.3"/>
<path class="T25" d="M893.4,969.1 L922.9,968.3"/>
<path class="T25" d="M887.1,979.9 L899.6,976.8 L922.9,976.1"/>
<path class="T25" d="M899.6,969.1 L899.6,976.8"/>
<path class="T25" d="M912.0,969.1 L912.0,976.5"/>
<path class="T25" d="M933.7,966.0 L946.1,964.4"/>
<path class="T25" d="M933.7,973.7 L944.6,971.4"/>
<path class="T25" d="M957.0,961.3 L968.7,958.2"/>
<path class="T25" d="M956.2,969.1 L966.3,966.0"/>
<path class="T25" d="M977.2,962.1 L994.3,957.4"/>
<path class="T25" d="M998.2,954.3 L1007.5,948.9"/>
<path class="T25" d="M1001.3,945.0 L1010.6,938.8"/>
<path class="T25" d="M980.3,953.5 L989.6,950.4"/>
<path class="T25" d="M933.0,930.2 L942.3,928.7"/>
<path class="T25" d="M934.5,935.7 L944.6,933.4"/>
<path class="T25" d="M945.4,924.0 L952.4,922.5"/>
<path class="T25" d="M954.7,924.8 L964.0,921.7"/>
<path class="T25" d="M957.0,930.2 L965.6,927.1"/>
<path class="T25" d="M976.4,922.5 L986.5,920.2"/>
<path class="T25" d="M981.9,925.6 L981.9,947.3 L988.1,949.7 L992.7,948.1 L992.7,934.9"/>
<path class="T25" d="M992.7,923.3 L992.7,912.4 L981.9,911.6"/>
<path class="T25" d="M992.7,911.6 L998.9,907.0"/>
<path class="T25" d="M996.6,913.2 L1004.4,909.3"/>
<path class="T25" d="M974.1,1388.5 L974.1,1424.2"/>
<path class="T25" d="M974.1,1388.5 L986.5,1390.0 L986.5,1393.1 L1008.3,1395.4 L1012.9,1399.3 L1013.7,1410.2"/>
<path class="T25" d="M985.7,1420.3 L985.7,1397.8 L1006.7,1400.1 L1008.3,1407.1"/>
<path class="T25" d="M915.1,1435.8 L920.5,1433.5 L920.5,1428.0 L943.0,1421.8 L952.4,1424.2"/>
<path class="T25" d="M920.5,1428.0 L925.2,1431.9 L933.7,1435.0"/>
<path class="T25" d="M955.5,1430.4 L956.2,1425.7 L972.5,1423.7 L975.7,1428.0 L981.9,1426.5 L983.4,1421.8"/>
<path class="T25" d="M997.4,1424.2 L1019.1,1428.8 L1019.1,1445.9 L1016.0,1451.3"/>
<path class="T25" d="M871.6,1453.7 L871.6,1438.1 L883.3,1438.1 L884.0,1441.2 L898.0,1442.8 L919.8,1442.0"/>
<path class="T25" d="M882.5,1459.9 L882.5,1446.7 L898.0,1449.0 L913.5,1449.8"/>
<path class="T25" d="M901.1,1445.1 L901.1,1449.8"/>
<path class="T25" d="M912.8,1444.4 L913.5,1449.8"/>
<path class="T25" d="M884.0,1452.1 L890.2,1455.2 L891.8,1459.9 L888.7,1464.5 L882.5,1466.1 L882.5,1477.0 L871.6,1477.0"/>
<path class="T25" d="M862.3,1459.9 L864.6,1453.7 L871.6,1452.9"/>
<path class="T25" d="M861.5,1473.9 L861.5,1463.0 L871.6,1463.0 L871.6,1477.0"/>
<path class="M" d="M866.2,1466.1 L867.0,1480.1 L871.6,1483.2"/>
<path class="T25" d="M861.5,1484.0 L861.5,1496.4 L874.7,1494.0"/>
<path class="T25" d="M871.6,1483.2 L873.2,1486.3 L882.5,1486.3"/>
<path class="T25" d="M893.4,1480.1 L922.9,1479.3"/>
<path class="T25" d="M887.1,1490.9 L899.6,1487.8 L922.9,1487.1"/>
<path class="T25" d="M899.6,1480.1 L899.6,1487.8"/>
<path class="T25" d="M912.0,1480.1 L912.0,1487.5"/>
<path class="T25" d="M933.7,1477.0 L946.1,1475.4"/>
<path class="T25" d="M933.7,1484.7 L944.6,1482.4"/>
<path class="T25" d="M957.0,1472.3 L968.7,1469.2"/>
<path class="T25" d="M956.2,1480.1 L966.3,1477.0"/>
<path class="T25" d="M977.2,1473.1 L994.3,1468.4"/>
<path class="T25" d="M998.2,1465.3 L1007.5,1459.9"/>
<path class="T25" d="M1001.3,1456.0 L1010.6,1449.8"/>
<path class="T25" d="M980.3,1464.5 L989.6,1461.4"/>
<path class="T25" d="M933.0,1441.2 L942.3,1439.7"/>
<path class="T25" d="M934.5,1446.7 L944.6,1444.4"/>
<path class="T25" d="M945.4,1435.0 L952.4,1433.5"/>
<path class="T25" d="M954.7,1435.8 L964.0,1432.7"/>
<path class="T25" d="M957.0,1441.2 L965.6,1438.1"/>
<path class="T25" d="M976.4,1433.5 L986.5,1431.2"/>
<path class="T25" d="M981.9,1436.6 L981.9,1458.3 L988.1,1460.7 L992.7,1459.1 L992.7,1445.9"/>
<path class="T25" d="M992.7,1434.3 L992.7,1423.4 L981.9,1422.6"/>
<path class="T25" d="M992.7,1422.6 L998.9,1418.0"/>
<path class="T25" d="M996.6,1424.2 L1004.4,1420.3"/>
<path class="D" d="M1670.1,1624.7 L1695.2,1627.8 L1818.1,1645.4"/>
<path class="D" d="M1670.1,1624.7 L1670.1,1628.6 L1693.9,1645.4 L1712.0,1662.2 L1732.7,1664.8 L1745.6,1660.9 L1818.1,1650.1"/>
<path class="T" d="M1708.1,1662.2 L1708.1,1733.4"/>
<path class="T" d="M1728.8,1663.5 L1728.8,1738.6"/>
<path class="T" d="M1708.1,1729.5 L1719.8,1733.9 L1740.5,1733.9"/>
<path class="T" d="M1695.3,1398.0 L1695.3,2215.3"/>
<path class="T" d="M1198.5,163.4 L1198.5,295.6"/>
<path class="C" d="M1198.5,306.9 L1198.5,2141.0"/>
<path class="D" d="M680.4,1882.7 L685.0,1883.8 L689.7,1885.0 L694.4,1886.1 L699.1,1887.2 L703.9,1888.3 L708.7,1889.4 L713.5,1890.5 L718.4,1891.6 L723.3,1892.7 L728.2,1893.7 L733.1,1894.8 L738.1,1895.8 L743.1,1896.8 L748.1,1897.9 L753.2,1898.9 L758.3,1899.9 L763.4,1900.9 L768.5,1901.9 L773.7,1902.9 L778.9,1903.8 L784.1,1904.8 L789.3,1905.7 L794.6,1906.7 L799.9,1907.6 L805.2,1908.5 L810.5,1909.4 L815.9,1910.3 L821.3,1911.2 L826.7,1912.1 L832.2,1913.0 L837.6,1913.9 L843.1,1914.7 L848.6,1915.6 L854.1,1916.4 L859.7,1917.2 L865.3,1918.0 L870.9,1918.8 L876.5,1919.6 L882.1,1920.4 L887.8,1921.2 L893.5,1921.9 L899.2,1922.7 L904.9,1923.4 L910.7,1924.1 L916.4,1924.9 L922.2,1925.6 L928.0,1926.3 L933.8,1927.0 L939.7,1927.6 L945.5,1928.3 L951.4,1929.0 L957.3,1929.6 L963.2,1930.2 L969.1,1930.8 L975.1,1931.5 L981.0,1932.1 L987.0,1932.7 L993.0,1933.2 L999.0,1933.8 L1005.0,1934.4 L1011.1,1934.9 L1017.1,1935.4 L1023.2,1936.0 L1029.3,1936.5 L1035.4,1937.0 L1041.5,1937.5 L1047.6,1937.9 L1053.7,1938.4 L1059.9,1938.9 L1066.0,1939.3 L1072.2,1939.7 L1078.4,1940.2 L1084.6,1940.6 L1090.8,1941.0 L1097.0,1941.4 L1103.2,1941.7 L1109.4,1942.1 L1115.7,1942.5 L1121.9,1942.8 L1128.2,1943.1 L1134.5,1943.5 L1140.8,1943.8 L1147.0,1944.1 L1153.3,1944.3 L1159.6,1944.6 L1166.0,1944.9 L1172.3,1945.1 L1178.6,1945.4 L1184.9,1945.6 L1191.3,1945.8 L1197.6,1946.0 L1204.0,1946.2 L1210.3,1946.4 L1216.7,1946.6 L1223.0,1946.7 L1229.4,1946.9 L1235.8,1947.0 L1242.1,1947.1 L1248.5,1947.2 L1254.9,1947.3 L1261.3,1947.4 L1267.7,1947.5 L1274.0,1947.6 L1280.4,1947.6 L1286.8,1947.7 L1293.2,1947.7 L1299.6,1947.7 L1306.0,1947.7 L1312.4,1947.7 L1318.8,1947.7 L1325.2,1947.7 L1331.5,1947.6 L1337.9,1947.6 L1344.3,1947.5 L1350.7,1947.4 L1357.1,1947.3 L1363.5,1947.2 L1369.8,1947.1 L1376.2,1947.0 L1382.6,1946.9 L1388.9,1946.7 L1395.3,1946.6 L1401.7,1946.4 L1408.0,1946.2 L1414.4,1946.0 L1420.7,1945.8 L1427.0,1945.6 L1433.4,1945.4 L1439.7,1945.1 L1446.0,1944.9 L1452.3,1944.6 L1458.6,1944.4 L1464.9,1944.1 L1471.2,1943.8 L1477.5,1943.5 L1483.7,1943.2 L1490.0,1942.8 L1496.3,1942.5 L1502.5,1942.1 L1508.7,1941.8 L1515.0,1941.4 L1521.2,1941.0 L1527.4,1940.6 L1533.6,1940.2 L1539.7,1939.8 L1545.9,1939.3 L1552.1,1938.9 L1558.2,1938.4 L1564.3,1938.0 L1570.4,1937.5 L1576.6,1937.0 L1582.6,1936.5 L1588.7,1936.0 L1594.8,1935.5 L1600.8,1934.9 L1606.9,1934.4 L1612.9,1933.8 L1618.9,1933.3 L1624.9,1932.7 L1630.8,1932.1 L1636.8,1931.5 L1642.7,1930.9 L1648.7,1930.3 L1654.6,1929.6 L1660.5,1929.0 L1666.3,1928.3 L1672.2,1927.7 L1678.0,1927.0 L1683.8,1926.3 L1689.6,1925.6 L1695.4,1924.9 L1701.2,1924.2 L1706.9,1923.5 L1712.6,1922.7 L1718.3,1922.0 L1724.0,1921.2 L1729.6,1920.4 L1735.3,1919.7 L1740.9,1918.9 L1746.5,1918.1 L1752.1,1917.2 L1757.6,1916.4 L1763.1,1915.6 L1768.6,1914.8 L1774.1,1913.9 L1779.6,1913.0 L1785.0,1912.2 L1790.4,1911.3 L1795.8,1910.4 L1801.2,1909.5 L1806.5,1908.6 L1811.8,1907.7 L1817.1,1906.7 L1822.4,1905.8 L1827.6,1904.8 L1832.8,1903.9 L1838.0,1902.9 L1843.1,1901.9 L1848.3,1900.9 L1853.4,1899.9 L1858.5,1898.9 L1863.5,1897.9 L1868.5,1896.9 L1873.5,1895.9 L1878.5,1894.8 L1883.4,1893.8 L1888.3,1892.7 L1893.2,1891.6 L1898.0,1890.6 L1902.9,1889.5 L1907.7,1888.4 L1912.4,1887.3 L1917.1,1886.1 L1921.8,1885.0 L1926.5,1883.9 L1931.1,1882.8 L1935.8,1881.6 L1940.3,1880.4 L1944.9,1879.3 L1949.4,1878.1 L1953.9,1876.9 L1958.3,1875.7 L1962.7,1874.5 L1967.1,1873.3 L1971.5,1872.1 L1975.8,1870.9 L1980.1,1869.7 L1984.3,1868.4 L1988.5,1867.2 L1992.7,1865.9 L1996.8,1864.7 L2001.0,1863.4 L2005.0,1862.1 L2009.1,1860.8 L2013.1,1859.5 L2017.1,1858.2 L2021.0,1856.9 L2024.9,1855.6 L2028.8,1854.3 L2032.6,1853.0 L2036.4,1851.6 L2040.2,1850.3 L2043.9,1849.0 L2047.6,1847.6 L2051.2,1846.2 L2054.8,1844.9 L2058.4,1843.5 L2061.9,1842.1 L2065.4,1840.7 L2068.9,1839.3 L2072.3,1837.9 L2075.7,1836.5 L2079.0,1835.1 L2082.3,1833.7 L2085.6,1832.3 L2088.8,1830.8 L2092.0,1829.4 L2095.2,1828.0 L2098.3,1826.5 L2101.4,1825.1 L2104.4,1823.6 L2107.4,1822.1 L2110.4,1820.7 L2113.3,1819.2 L2116.2,1817.7 L2119.0,1816.2 L2121.8,1814.7 L2124.5,1813.2 L2127.2,1811.7 L2129.9,1810.2 L2132.5,1808.7 L2135.1,1807.2 L2137.7,1805.7 L2140.2,1804.2 L2142.7,1802.6 L2145.1,1801.1 L2147.5,1799.5 L2149.8,1798.0 L2152.1,1796.5 L2154.4,1794.9 L2156.6,1793.4 L2158.7,1791.8 L2160.9,1790.2 L2163.0,1788.7 L2165.0,1787.1 L2167.0,1785.5 L2169.0,1783.9"/>
<path class="D" d="M626.2,1932.8 L630.5,1934.0 L634.9,1935.3 L639.3,1936.5 L643.7,1937.7 L648.2,1938.9 L652.6,1940.1 L657.2,1941.3 L661.7,1942.5 L666.3,1943.7 L670.9,1944.8 L675.6,1946.0 L680.3,1947.2 L685.0,1948.3"/>
<path class="D" d="M687.4,1950.0 L701.6,1951.3 L761.2,1962.9 L812.9,1973.3 L890.6,1983.6 L978.6,1995.3 L1080.0,2001.7 L1157.6,2006.9 L1261.2,2008.7 L1364.7,2008.7 L1468.2,2005.6 L1580.0,1999.1 L1631.8,1993.5 L1691.3,1987.0"/>
<path class="D" d="M1704.2,1984.4 L1761.2,1976.7 L1838.8,1965.0 L1942.3,1943.0 L2020.0,1919.7 L2061.4,1906.8"/>
<path class="T" d="M2074.7,1900.1 L2082.5,1898.3"/>
<path class="T" d="M2095.4,1891.0 L2107.0,1887.2"/>
<path class="D" d="M2114.8,1882.0 C2119.1,1879.8 2131.2,1875.3 2140.7,1869.0 C2150.2,1862.8 2162.2,1851.8 2171.7,1844.5 C2181.2,1837.1 2193.3,1828.3 2197.6,1825.0"/>
<path class="DB" d="M709.4,1849.0 C718.0,1850.8 743.9,1856.2 761.2,1859.4 C778.4,1862.6 791.4,1864.8 812.9,1868.4 C834.5,1872.1 862.1,1877.5 890.6,1881.4 C919.0,1885.3 952.2,1888.7 983.7,1891.7 C1015.3,1894.8 1051.0,1897.2 1080.0,1899.5 C1109.0,1901.8 1130.9,1904.2 1157.6,1905.5 C1184.4,1906.7 1210.3,1906.7 1240.5,1906.7 C1270.6,1906.8 1305.2,1906.5 1338.8,1906.0 C1372.4,1905.4 1412.1,1904.5 1442.3,1903.4 C1472.5,1902.3 1497.0,1900.7 1520.0,1899.5 C1542.9,1898.3 1561.4,1897.6 1580.0,1896.4 C1598.6,1895.2 1612.8,1894.2 1631.8,1892.6 C1650.7,1890.9 1672.3,1889.4 1693.9,1886.6 C1715.4,1883.8 1737.0,1879.9 1761.2,1875.7 C1785.3,1871.6 1812.9,1866.9 1838.8,1861.5 C1864.7,1856.1 1890.6,1850.1 1916.4,1843.4 C1942.3,1836.7 1979.6,1825.5 1994.1,1821.4 C2008.6,1817.3 1993.3,1821.8 2003.5,1818.6 C2013.7,1815.3 2040.2,1807.6 2055.3,1801.7 C2070.4,1795.9 2083.3,1788.8 2094.1,1783.6 C2104.9,1778.5 2115.7,1772.9 2120.0,1770.7"/>
<path class="D" d="M779.3,1840.0 C789.2,1836.5 818.1,1825.7 838.8,1819.3 C859.5,1812.8 883.2,1806.3 903.5,1801.2 C923.8,1796.0 950.9,1790.4 960.4,1788.2"/>
<path class="D" d="M1080.0,1706.7 C1088.6,1704.8 1111.9,1698.7 1131.8,1695.1 C1151.6,1691.4 1178.3,1687.4 1199.0,1684.7 C1219.8,1682.0 1232.7,1680.7 1256.0,1679.0 C1279.3,1677.3 1312.1,1674.9 1338.8,1674.3 C1365.5,1673.8 1390.6,1674.3 1416.4,1675.6 C1442.3,1676.9 1466.8,1678.4 1494.1,1682.1 C1521.3,1685.8 1554.9,1692.5 1580.0,1697.6 C1605.1,1702.7 1625.7,1706.3 1644.7,1712.7 C1663.7,1719.1 1685.7,1732.1 1693.9,1736.0"/>
<path class="D" d="M1704.2,1736.0 C1718.0,1736.4 1760.3,1737.5 1787.0,1738.6 C1813.8,1739.6 1838.8,1740.5 1864.7,1742.5 C1890.6,1744.4 1923.5,1748.1 1942.3,1750.2 C1961.1,1752.3 1958.8,1752.4 1977.6,1755.2 C1996.5,1757.9 2034.6,1763.8 2055.3,1766.8 C2076.0,1769.8 2094.1,1772.2 2101.9,1773.3"/>
<path class="D" d="M779.3,1842.8 C789.2,1839.4 818.1,1828.6 838.8,1822.1 C859.5,1815.7 883.2,1809.4 903.5,1804.0 C923.8,1798.6 950.9,1792.3 960.4,1789.9"/>
<path class="D" d="M1080.0,1712.4 C1088.6,1710.5 1111.9,1704.4 1131.8,1700.7 C1151.6,1697.1 1178.3,1693.1 1199.0,1690.4 C1219.8,1687.7 1232.7,1686.4 1256.0,1684.7 C1279.3,1683.0 1312.1,1680.6 1338.8,1680.0 C1365.5,1679.5 1390.6,1680.0 1416.4,1681.3 C1442.3,1682.6 1466.8,1684.1 1494.1,1687.8 C1521.3,1691.5 1554.9,1698.2 1580.0,1703.3 C1605.1,1708.4 1625.7,1712.4 1644.7,1718.4 C1663.7,1724.4 1685.7,1735.9 1693.9,1739.4"/>
<path class="D" d="M1704.2,1741.7 C1718.0,1742.1 1760.3,1743.2 1787.0,1744.3 C1813.8,1745.3 1838.8,1746.2 1864.7,1748.1 C1890.6,1750.1 1923.5,1753.8 1942.3,1755.9 C1961.1,1758.0 1958.8,1758.1 1977.6,1760.9 C1996.5,1763.6 2034.6,1770.2 2055.3,1772.5 C2076.0,1774.9 2094.1,1774.6 2101.9,1775.0"/>
<path class="T" d="M756.0,1843.9 L784.5,1832.2"/>
<path class="D" d="M761.2,1859.4 L771.5,1847.7"/>
<path class="D" d="M789.6,1837.4 L814.2,1867.2"/>
<path class="T" d="M1243.0,1679.5 L1256.0,1679.5"/>
<path class="T" d="M1188.7,1690.4 L1201.6,1690.4"/>
<path class="D" d="M2013.9,1765.5 L2039.8,1775.9 L2068.2,1791.4"/>
<path class="T" d="M2061.7,1787.5 L2078.6,1795.3"/>
<path class="T" d="M2065.6,1795.3 L2070.8,1786.2"/>
<path class="T" d="M2144.6,1748.7 L2154.9,1740.9 L2166.6,1752.6"/>
<path class="D" d="M1080.0,1709.3 C1074.3,1710.6 1057.6,1713.0 1045.8,1717.0 C1034.1,1721.1 1020.0,1727.6 1009.6,1733.9 C999.3,1740.1 990.6,1748.5 983.7,1754.6 C976.8,1760.6 970.8,1767.5 968.2,1770.1"/>
<path class="D" d="M1080.0,1716.3 C1075.2,1717.5 1061.0,1719.7 1051.0,1723.5 C1041.0,1727.3 1029.4,1733.0 1020.0,1739.0 C1010.5,1745.1 1000.5,1753.7 994.1,1759.8 C987.6,1765.8 983.3,1772.7 981.1,1775.3"/>
<path class="T" d="M961.0,1785.6 L961.7,1772.7 L965.6,1764.9"/>
<path class="T" d="M937.1,1789.5 L960.4,1785.6"/>
<path class="T" d="M979.8,1786.9 L979.8,1772.7"/>
<path class="T" d="M950.1,1793.9 L979.8,1788.2"/>
<path class="T" d="M979.8,1786.9 C981.4,1786.1 985.2,1781.1 988.9,1781.7 C992.6,1782.4 996.7,1785.8 1001.8,1790.8 C1007.0,1795.8 1014.8,1805.5 1020.0,1811.5 C1025.1,1817.6 1029.0,1822.3 1032.9,1827.0 C1036.8,1831.8 1038.9,1836.5 1043.3,1840.0 C1047.6,1843.4 1052.7,1845.6 1058.8,1847.7 C1064.9,1849.9 1070.0,1851.1 1080.0,1852.9 C1090.0,1854.7 1105.9,1858.0 1118.8,1858.6 C1131.8,1859.3 1144.3,1858.0 1157.6,1856.8 C1171.0,1855.6 1192.1,1852.5 1199.0,1851.6"/>
<path class="D" d="M1209.4,1849.8 C1222.3,1848.7 1262.8,1844.6 1287.0,1843.1 C1311.3,1841.5 1343.5,1840.9 1354.8,1840.5"/>
<path class="T" d="M1354.8,1840.5 C1365.1,1840.4 1397.5,1841.1 1416.4,1840.0 C1435.3,1838.8 1450.9,1836.5 1468.2,1833.5 C1485.5,1830.5 1504.9,1826.0 1520.0,1821.9 C1535.1,1817.8 1548.8,1813.2 1558.8,1808.9 C1568.8,1804.6 1573.0,1800.4 1580.0,1796.0 C1587.0,1791.6 1593.8,1788.7 1600.7,1782.6 C1607.6,1776.4 1618.0,1763.2 1621.4,1759.3"/>
<path class="T" d="M1614.9,1760.6 L1626.6,1770.9"/>
<path class="T" d="M1635.6,1781.3 L1646.0,1790.3"/>
<path class="D" d="M1631.8,1745.0 C1636.1,1743.5 1647.3,1737.8 1657.6,1736.0 C1668.0,1734.1 1687.8,1734.3 1693.9,1733.9"/>
<path class="D" d="M960.4,1792.1 C961.7,1796.2 966.0,1807.4 968.2,1816.7 C970.4,1826.0 971.4,1839.1 973.4,1847.7 C975.3,1856.4 978.1,1861.3 979.8,1868.4 C981.6,1875.6 983.1,1886.8 983.7,1890.4"/>
<path class="D" d="M988.9,1790.8 C991.5,1792.1 998.4,1794.3 1004.4,1798.6 C1010.5,1802.9 1018.2,1808.9 1025.1,1816.7 C1032.0,1824.5 1039.4,1837.0 1045.8,1845.2 C1052.3,1853.4 1058.3,1860.7 1064.0,1865.9 C1069.6,1871.0 1076.0,1873.6 1080.0,1876.2 C1084.0,1878.8 1081.3,1878.2 1087.8,1881.4 C1094.2,1884.6 1113.6,1893.2 1118.8,1895.6"/>
<path class="D" d="M1187.4,1854.2 L1240.5,1906.0"/>
<path class="D" d="M1369.9,1841.3 L1426.8,1896.4"/>
<path class="D" d="M1333.6,1902.6 C1349.2,1901.7 1402.2,1899.5 1426.8,1897.4 C1451.4,1895.4 1463.5,1894.2 1481.1,1890.4 C1498.8,1886.7 1516.4,1880.7 1532.9,1874.9 C1549.4,1869.1 1566.5,1863.1 1580.0,1855.5 C1593.5,1847.9 1605.0,1837.4 1613.6,1829.2 C1622.3,1820.9 1626.2,1813.6 1631.8,1805.9 C1637.4,1798.1 1642.5,1789.5 1647.3,1782.6 C1652.0,1775.7 1654.2,1769.8 1660.2,1764.5 C1666.3,1759.1 1679.6,1752.6 1683.5,1750.2"/>
<path class="D" d="M1727.5,1738.6 C1726.9,1743.3 1725.1,1755.4 1723.6,1767.0 C1722.1,1778.7 1720.4,1795.5 1718.5,1808.4 C1716.5,1821.4 1713.7,1832.4 1712.0,1844.7 C1710.3,1857.0 1708.8,1876.0 1708.1,1882.2"/>
<path class="T" d="M1697.8,1883.0 L1709.4,1883.0"/>
<path class="D" d="M1963.0,1758.0 C1962.2,1761.6 1960.0,1771.1 1957.8,1780.0 C1955.7,1788.8 1952.7,1801.3 1950.1,1811.0 C1947.5,1820.7 1943.6,1833.7 1942.3,1838.2"/>
<path class="D" d="M687.4,1950.0 L687.4,2377.0"/>
<path class="D" d="M707.6,1955.0 L707.6,2321.4"/>
<path class="D" d="M719.8,1955.0 L719.8,2304.6"/>
<path class="T" d="M687.4,1950.0 L701.6,1952.6"/>
<path class="T" d="M707.6,1953.9 L721.0,1956.4"/>
<path class="T" d="M687.4,2369.3 L687.4,2377.0 L707.6,2379.6 L719.8,2376.3 L719.8,2346.0 L707.6,2346.0 L707.6,2379.6"/>
<path class="D" d="M719.8,2304.6 L912.6,2218.4"/>
<path class="D" d="M719.8,2317.5 L915.7,2229.5"/>
<path class="D" d="M745.6,2321.4 L920.3,2251.0"/>
<path class="D" d="M719.8,2304.6 L719.8,2317.5 L707.6,2322.7 L797.4,2326.6"/>
<path class="D" d="M732.7,2348.6 L753.4,2352.4 L838.8,2365.4 L968.2,2382.2"/>
<path class="D" d="M841.4,2336.4 L916.4,2344.7 L968.2,2352.4 L1080.0,2352.4"/>
<path class="D" d="M983.7,2377.8 L1080.0,2375.7"/>
<path class="T" d="M970.8,2361.5 L982.4,2357.1 L982.4,2378.3 L970.8,2383.5 L970.8,2361.5"/>
<path class="T" d="M963.0,2382.2 L970.8,2383.5"/>
<path class="D" d="M811.6,1973.3 C814.4,1978.2 822.2,1990.3 828.4,2003.0 C834.7,2015.7 842.2,2034.9 849.2,2049.6 C856.1,2064.3 864.7,2079.8 869.9,2091.1 C875.0,2102.3 877.2,2110.5 880.2,2116.9 C883.2,2123.4 886.7,2127.7 888.0,2129.9"/>
<path class="D" d="M888.0,2129.9 C892.7,2132.5 903.1,2140.0 916.4,2145.4 C929.8,2150.8 948.8,2157.7 968.2,2162.2 C987.6,2166.8 1014.3,2170.3 1032.9,2172.6 C1051.5,2174.8 1064.2,2167.6 1080.0,2175.7 C1095.8,2183.7 1119.9,2213.4 1127.9,2221.0"/>
<path class="D" d="M904.8,2166.1 C908.9,2169.1 918.8,2178.6 929.4,2184.2 C939.9,2189.8 953.1,2195.2 968.2,2199.8 C983.3,2204.3 1001.3,2208.4 1020.0,2211.4 C1038.6,2214.4 1070.0,2216.8 1080.0,2217.9"/>
<path class="D" d="M888.0,2129.9 C890.1,2134.2 897.5,2147.1 900.9,2155.8 C904.4,2164.4 906.5,2171.7 908.7,2181.6 C910.8,2191.6 912.7,2207.3 913.9,2215.3 C915.0,2223.3 914.6,2223.6 915.7,2229.5 C916.7,2235.5 919.5,2247.4 920.3,2251.0"/>
<path class="D" d="M978.6,1995.3 C983.3,2003.5 1000.1,2033.6 1007.0,2044.4 C1013.9,2055.2 1013.5,2050.9 1020.0,2060.0 C1026.4,2069.1 1037.2,2085.9 1045.8,2098.8 C1054.5,2111.8 1066.0,2129.0 1071.7,2137.6 C1077.4,2146.3 1075.2,2143.2 1080.0,2150.6 C1084.8,2157.9 1097.3,2176.5 1100.7,2181.6"/>
<path class="D" d="M922.9,2260.6 C923.1,2263.8 923.1,2273.3 924.2,2280.0 C925.3,2286.7 925.5,2294.6 929.4,2300.7 C933.3,2306.7 938.9,2311.5 947.5,2316.2 C956.1,2321.0 969.1,2325.3 981.1,2329.2 C993.2,2333.0 1007.4,2336.7 1020.0,2339.5 C1032.5,2342.3 1050.2,2344.9 1056.2,2346.0"/>
<path class="D" d="M1090.4,2220.5 L1127.9,2221.0 L1127.9,2280.0"/>
<path class="T" d="M1227.0,2019.8 L1250.8,2019.8 L1256.5,2025.0 L1232.7,2025.0 L1227.0,2019.8"/>
<path class="T" d="M1232.7,2025.0 L1232.7,2031.5"/>
<path class="D" d="M1227.0,2019.8 C1226.9,2036.5 1227.2,2098.2 1226.2,2120.0 C1225.2,2141.8 1223.0,2130.4 1221.0,2150.6 C1219.1,2170.8 1216.7,2208.8 1214.6,2241.2 C1212.4,2273.5 1209.2,2327.4 1208.1,2344.7"/>
<path class="D" d="M1232.7,2025.0 C1232.6,2040.9 1232.8,2103.4 1232.2,2120.0 C1231.5,2136.6 1229.4,2123.9 1228.8,2124.7"/>
<path class="D" d="M1256.5,2025.0 C1256.5,2040.9 1257.0,2103.4 1256.5,2120.0 C1256.0,2136.6 1255.2,2113.1 1253.4,2124.7 C1251.6,2136.3 1248.2,2165.7 1245.6,2189.4 C1243.0,2213.1 1240.2,2241.6 1237.9,2267.0 C1235.5,2292.5 1232.5,2329.6 1231.4,2342.1"/>
<path class="D" d="M1267.6,2009.5 C1267.4,2017.9 1267.0,2041.5 1266.3,2060.0 C1265.7,2078.4 1264.6,2107.1 1263.7,2120.0 C1262.9,2132.9 1262.0,2119.6 1261.2,2137.6 C1260.3,2155.7 1259.9,2196.3 1258.6,2228.2 C1257.3,2260.1 1254.3,2312.3 1253.4,2329.2"/>
<path class="D" d="M1290.9,2009.5 C1290.6,2015.7 1290.2,2034.3 1289.1,2047.0 C1288.0,2059.7 1285.9,2075.1 1284.5,2085.8 C1283.0,2096.6 1281.2,2107.4 1280.6,2111.7"/>
<path class="D" d="M1276.2,2122.1 C1275.4,2129.0 1273.4,2145.8 1271.5,2163.5 C1269.7,2181.2 1266.8,2212.7 1265.0,2228.2 C1263.3,2243.7 1261.8,2251.9 1261.2,2256.7"/>
<path class="T" d="M1232.7,2120.8 L1256.0,2119.5"/>
<path class="T" d="M1209.4,2352.4 L1263.7,2352.4"/>
<path class="T" d="M1231.4,2361.5 L1271.5,2361.5"/>
<path class="T" d="M1201.6,2401.6 L1201.6,2437.8 L1208.1,2444.3 L1231.4,2444.3"/>
<path class="T" d="M1208.1,2404.2 L1208.1,2444.3"/>
<path class="D" d="M1208.1,2344.7 L1208.1,2444.3"/>
<path class="D" d="M1231.4,2342.1 L1231.4,2444.3"/>
<path class="D" d="M1180.9,2382.2 L1201.6,2401.6"/>
<path class="D" d="M1271.5,2177.8 C1287.0,2177.3 1331.9,2176.5 1364.7,2175.2 C1397.5,2173.9 1432.3,2172.1 1468.2,2170.0 C1504.1,2167.8 1552.7,2164.6 1580.0,2162.2 C1607.3,2159.9 1613.6,2157.7 1631.8,2155.8 C1649.9,2153.8 1679.2,2151.4 1688.7,2150.6"/>
<path class="D" d="M1265.0,2221.7 C1281.6,2221.1 1330.8,2219.2 1364.7,2217.9 C1398.5,2216.6 1432.3,2215.9 1468.2,2214.0 C1504.1,2212.0 1552.7,2208.6 1580.0,2206.2 C1607.3,2203.8 1613.6,2201.8 1631.8,2199.8 C1649.9,2197.7 1679.2,2195.0 1688.7,2194.1"/>
<path class="D" d="M1271.5,2351.9 C1287.0,2351.5 1331.9,2350.5 1364.7,2349.3 C1397.5,2348.1 1432.3,2346.5 1468.2,2344.7 C1504.1,2342.8 1548.4,2340.8 1580.0,2338.2 C1611.6,2335.6 1634.8,2331.5 1657.6,2329.2 C1680.5,2326.8 1707.2,2324.8 1717.2,2324.0"/>
<path class="D" d="M1271.5,2361.5 C1287.0,2360.9 1331.9,2358.9 1364.7,2357.6 C1397.5,2356.3 1432.3,2355.5 1468.2,2353.7 C1504.1,2352.0 1548.4,2350.3 1580.0,2347.3 C1611.6,2344.2 1634.8,2338.6 1657.6,2335.6 C1680.5,2332.6 1707.2,2330.2 1717.2,2329.2"/>
<path class="T" d="M1781.9,1981.8 L1805.2,1979.8 L1811.1,1984.4 L1787.0,1987.0 L1781.9,1981.8"/>
<path class="T" d="M1787.0,1987.0 L1787.0,1994.8"/>
<path class="D" d="M1781.9,1981.8 C1781.8,1994.9 1781.8,2038.3 1781.3,2060.0 C1780.9,2081.7 1780.9,2090.2 1779.3,2111.8 C1777.6,2133.3 1774.5,2161.4 1771.5,2189.4 C1768.5,2217.4 1762.9,2264.9 1761.2,2280.0"/>
<path class="D" d="M1787.0,1987.0 C1787.0,1999.2 1787.5,2039.2 1787.0,2060.0 C1786.6,2080.8 1786.0,2090.2 1784.5,2111.8 C1782.9,2133.3 1780.1,2163.5 1778.0,2189.4 C1775.8,2215.3 1772.6,2254.1 1771.5,2267.0"/>
<path class="D" d="M1811.1,1984.4 C1811.1,1997.0 1811.5,2040.9 1811.1,2060.0 C1810.8,2079.1 1810.5,2081.6 1809.0,2098.8 C1807.6,2116.1 1804.9,2142.0 1802.6,2163.5 C1800.2,2185.1 1797.0,2207.5 1794.8,2228.2 C1792.6,2248.9 1790.5,2277.8 1789.6,2287.7"/>
<path class="T" d="M1788.3,2080.7 L1811.1,2080.7"/>
<path class="T" d="M1811.1,2070.4 L1811.1,2092.3"/>
<path class="D" d="M1708.9,1984.4 L1708.9,2215.3"/>
<path class="D" d="M1750.8,1978.7 C1750.4,1984.4 1749.7,1999.4 1748.2,2012.9 C1746.7,2026.4 1743.9,2043.5 1741.7,2060.0 C1739.6,2076.5 1737.7,2090.2 1735.3,2111.8 C1732.9,2133.3 1729.9,2165.2 1727.5,2189.4 C1725.1,2213.6 1722.1,2245.5 1721.0,2256.7"/>
<path class="T" d="M1702.9,1984.4 L1714.6,1984.4"/>
<path class="T" d="M1749.5,1978.7 L1762.5,1978.7"/>
<path class="T" d="M1699.0,2148.0 L1710.7,2148.0"/>
<path class="T" d="M1699.0,2191.5 L1710.7,2191.5"/>
<path class="D" d="M1710.7,2215.3 L1710.7,2316.2"/>
<path class="D" d="M1714.6,2241.2 L1714.6,2298.1"/>
<path class="T" d="M1756.0,2352.4 L1756.0,2399.0 L1763.7,2405.5 L1786.3,2405.5 L1786.3,2362.8"/>
<path class="D" d="M1763.7,2405.5 L1763.7,2368.0"/>
<path class="D" d="M1719.8,2329.2 L1756.0,2360.2"/>
<path class="D" d="M1758.6,2241.2 L1758.6,2352.4"/>
<path class="D" d="M1999.6,1926.0 C1999.0,1932.2 1997.7,1946.5 1995.8,1963.5 C1993.8,1980.5 1991.0,2006.6 1988.0,2028.2 C1985.0,2049.8 1980.0,2074.3 1977.6,2092.9 C1975.3,2111.5 1974.0,2139.0 1973.8,2140.0 C1973.5,2141.0 1976.7,2094.9 1976.0,2098.8 C1975.3,2102.7 1972.1,2142.0 1969.5,2163.5 C1966.9,2185.1 1961.9,2217.4 1960.4,2228.2"/>
<path class="D" d="M2060.5,1906.6 C2059.2,1916.1 2056.1,1941.1 2052.7,1963.5 C2049.2,1985.9 2043.6,2019.6 2039.8,2041.1 C2035.9,2062.7 2032.4,2076.4 2029.4,2092.9 C2026.4,2109.4 2022.3,2139.0 2021.6,2140.0 C2020.9,2141.0 2025.8,2097.1 2025.1,2098.8 C2024.4,2100.6 2020.8,2129.9 2017.4,2150.6 C2013.9,2171.3 2006.6,2211.0 2004.4,2223.0"/>
<path class="D" d="M1977.6,2096.8 C1982.0,2095.7 1996.2,2093.5 2003.5,2090.3 C2010.9,2087.1 2016.9,2081.7 2021.6,2077.4 C2026.4,2073.1 2030.3,2066.6 2032.0,2064.4"/>
<path class="T" d="M1976.0,2097.5 L1991.5,2094.9"/>
<path class="D" d="M2074.7,1900.0 L2074.7,2220.5"/>
<path class="D" d="M2096.0,1890.0 L2096.0,2282.6"/>
<path class="D" d="M2107.0,1890.0 L2107.0,2282.6"/>
<path class="D" d="M2074.8,1899.0 L2074.8,2220.5"/>
<path class="D" d="M2004.4,2208.8 L2080.0,2221.7"/>
<path class="D" d="M2007.0,2214.8 L2080.0,2226.9"/>
<path class="T" d="M1991.5,2255.4 L2000.5,2236.0 L2017.4,2236.0"/>
<path class="D" d="M1900.9,2286.4 L1968.2,2272.2 L2080.0,2232.1"/>
<path class="D" d="M1924.2,2282.6 L1994.1,2264.5 L2080.0,2238.6"/>
<path class="D" d="M1963.0,2307.2 L2080.0,2264.5"/>
<path class="D" d="M1810.3,2304.6 L1900.9,2291.6"/>
<path class="D" d="M1805.2,2320.9 L1877.6,2318.8"/>
<path class="T" d="M1888.0,2292.9 L1946.2,2292.9 L1946.2,2317.5 L1924.2,2314.9 L1924.2,2292.9"/>
<path class="T" d="M1885.4,2314.9 L1946.2,2317.5"/>
<path class="T" d="M1946.2,2317.5 L1955.3,2312.3"/>
<path class="T" d="M2071.7,2259.3 L2071.7,2280.0 L2080.0,2281.3"/>
<path class="T" d="M1955.3,2261.9 L1955.3,2274.8"/>
<path class="CU" d="M1199.0,2140.7 L1087.8,2190.7"/>
<path class="T" d="M735.3,2348.6 L687.4,2369.3"/>
<path class="T" d="M665.4,2380.9 L620.1,2401.6"/>
<path class="CW" d="M1199.0,2140.7 L1885.0,2244.4"/>
<path class="M4" d="M1766.8,2319.9 A31,15.5 0 1 1 1786.8,2318.6"/>
<path class="T" d="M1721.0,2304.6 L1824.6,2304.6"/>
<path class="T" d="M1772.8,2265.7 L1772.8,2318.8"/>
<path class="M4" d="M1891.9,2236.0 C1880.2,2204.9 1890.6,2184.2 1904.0,2184.7 S1926.8,2215.3 1916.4,2238.6 L1908.7,2246.3"/>
<path class="T" d="M1864.7,2215.8 L1943.6,2215.8"/>
<path class="T" d="M1904.0,2162.2 L1904.0,2215.3"/>
<path class="T2" d="M1908.7,2246.3 L2200.5,2290.5"/>
<path class="T" d="M1805.2,2309.7 L2215.6,2374.0"/>
<path class="T" d="M1772.8,2304.6 L1885.4,2255.4"/>
<path class="T" d="M1772.8,2304.6 L1460.4,2447.4"/>
<path class="T" d="M1066.5,2199.8 L1204.2,2220.5"/>
<path class="T" d="M1221.8,2222.5 L1239.2,2225.1"/>
<path class="T" d="M1265.0,2229.5 L1394.4,2248.4"/>
<path class="T" d="M1412.6,2251.5 L1429.4,2253.6"/>
<path class="T" d="M1446.2,2256.7 L1618.8,2282.0"/>
<path class="T" d="M1635.6,2284.6 L1772.8,2304.6"/>
<path class="T" d="M2200.5,2290.5 L2346.5,2315.2"/>
<path class="KS" d="M620.0,424.0 L1198.5,164.0 L2200.5,314.5"/>
<path class="KA" d="M620.0,424.0 L637.0,428.9 L654.6,433.6 L672.6,438.3 L691.1,442.8 L710.1,447.1 L729.6,451.3 L749.5,455.4 L769.8,459.4 L790.6,463.2 L811.7,466.8 L833.2,470.3 L855.1,473.6 L877.3,476.8 L899.9,479.8 L922.7,482.6 L945.9,485.3 L969.3,487.8 L993.0,490.2 L1017.0,492.3 L1041.1,494.3 L1065.5,496.1 L1090.1,497.8 L1114.8,499.3 L1139.6,500.5 L1164.6,501.7 L1189.7,502.6 L1214.9,503.3 L1240.2,503.9 L1265.5,504.3 L1290.8,504.5 L1316.1,504.5 L1341.5,504.3 L1366.8,504.0 L1392.0,503.5 L1417.2,502.8 L1442.3,501.9 L1467.4,500.8 L1492.2,499.5 L1517.0,498.1 L1541.5,496.5 L1565.9,494.7 L1590.1,492.8 L1614.1,490.6 L1637.8,488.3 L1661.3,485.8 L1684.5,483.2 L1707.4,480.4 L1730.0,477.4 L1752.3,474.3 L1774.2,471.0 L1795.8,467.5 L1816.9,463.9 L1837.7,460.2 L1858.1,456.3 L1878.1,452.2 L1897.6,448.0 L1916.7,443.7 L1935.2,439.2 L1953.4,434.6 L1971.0,429.9 L1988.0,425.0 L2004.6,420.1 L2020.6,415.0 L2036.1,409.8 L2051.0,404.5 L2065.4,399.0 L2079.1,393.5 L2092.3,387.9 L2104.8,382.2 L2116.8,376.4 L2128.1,370.5 L2138.8,364.5 L2148.8,358.5 L2158.2,352.4 L2166.9,346.2 L2175.0,340.0 L2182.4,333.7 L2189.1,327.3 L2195.1,320.9 L2200.5,314.5"/>
<path class="K" d="M620.0,424.0 L620.0,2400.0"/>
<path class="K" d="M2200.5,314.5 L2200.5,2290.5"/>
<path class="KS" d="M620.0,1885.0 L1198.5,1625.0 L2200.5,1775.5"/>
<path class="KA" d="M620.0,1885.0 L637.0,1889.9 L654.6,1894.6 L672.6,1899.3 L691.1,1903.8 L710.1,1908.1 L729.6,1912.3 L749.5,1916.4 L769.8,1920.4 L790.6,1924.2 L811.7,1927.8 L833.2,1931.3 L855.1,1934.6 L877.3,1937.8 L899.9,1940.8 L922.7,1943.6 L945.9,1946.3 L969.3,1948.8 L993.0,1951.2 L1017.0,1953.3 L1041.1,1955.3 L1065.5,1957.1 L1090.1,1958.8 L1114.8,1960.3 L1139.6,1961.5 L1164.6,1962.7 L1189.7,1963.6 L1214.9,1964.3 L1240.2,1964.9 L1265.5,1965.3 L1290.8,1965.5 L1316.1,1965.5 L1341.5,1965.3 L1366.8,1965.0 L1392.0,1964.5 L1417.2,1963.8 L1442.3,1962.9 L1467.4,1961.8 L1492.2,1960.5 L1517.0,1959.1 L1541.5,1957.5 L1565.9,1955.7 L1590.1,1953.8 L1614.1,1951.6 L1637.8,1949.3 L1661.3,1946.8 L1684.5,1944.2 L1707.4,1941.4 L1730.0,1938.4 L1752.3,1935.3 L1774.2,1932.0 L1795.8,1928.5 L1816.9,1924.9 L1837.7,1921.2 L1858.1,1917.3 L1878.1,1913.2 L1897.6,1909.0 L1916.7,1904.7 L1935.2,1900.2 L1953.4,1895.6 L1971.0,1890.9 L1988.0,1886.0 L2004.6,1881.1 L2020.6,1876.0 L2036.1,1870.8 L2051.0,1865.5 L2065.4,1860.0 L2079.1,1854.5 L2092.3,1848.9 L2104.8,1843.2 L2116.8,1837.4 L2128.1,1831.5 L2138.8,1825.5 L2148.8,1819.5 L2158.2,1813.4 L2166.9,1807.2 L2175.0,1801.0 L2182.4,1794.7 L2189.1,1788.3 L2195.1,1781.9 L2200.5,1775.5"/>
<path class="KA" d="M620.0,2400.0 L637.0,2404.9 L654.6,2409.6 L672.6,2414.3 L691.1,2418.8 L710.1,2423.1 L729.6,2427.3 L749.5,2431.4 L769.8,2435.4 L790.6,2439.2 L811.7,2442.8 L833.2,2446.3 L855.1,2449.6 L877.3,2452.8 L899.9,2455.8 L922.7,2458.6 L945.9,2461.3 L969.3,2463.8 L993.0,2466.2 L1017.0,2468.3 L1041.1,2470.3 L1065.5,2472.1 L1090.1,2473.8 L1114.8,2475.3 L1139.6,2476.5 L1164.6,2477.7 L1189.7,2478.6 L1214.9,2479.3 L1240.2,2479.9 L1265.5,2480.3 L1290.8,2480.5 L1316.1,2480.5 L1341.5,2480.3 L1366.8,2480.0 L1392.0,2479.5 L1417.2,2478.8 L1442.3,2477.9 L1467.4,2476.8 L1492.2,2475.5 L1517.0,2474.1 L1541.5,2472.5 L1565.9,2470.7 L1590.1,2468.8 L1614.1,2466.6 L1637.8,2464.3 L1661.3,2461.8 L1684.5,2459.2 L1707.4,2456.4 L1730.0,2453.4 L1752.3,2450.3 L1774.2,2447.0 L1795.8,2443.5 L1816.9,2439.9 L1837.7,2436.2 L1858.1,2432.3 L1878.1,2428.2 L1897.6,2424.0 L1916.7,2419.7 L1935.2,2415.2 L1953.4,2410.6 L1971.0,2405.9 L1988.0,2401.0 L2004.6,2396.1 L2020.6,2391.0 L2036.1,2385.8 L2051.0,2380.5 L2065.4,2375.0 L2079.1,2369.5 L2092.3,2363.9 L2104.8,2358.2 L2116.8,2352.4 L2128.1,2346.5 L2138.8,2340.5 L2148.8,2334.5 L2158.2,2328.4 L2166.9,2322.2 L2175.0,2316.0 L2182.4,2309.7 L2189.1,2303.3 L2195.1,2296.9 L2200.5,2290.5"/>
<rect class="W" x="330.0" y="1550.0" width="560.0" height="84.0"/>
<rect class="W" x="330.0" y="1657.5" width="560.0" height="82.3"/>
<rect class="W" x="1212.0" y="787.0" width="728.0" height="83.0"/>
<rect class="W" x="1212.0" y="893.0" width="578.0" height="89.0"/>
<clipPath id="sk1"><path d="M176.6,2195.9 L243.9,2169.0 L243.9,2247.7 L176.6,2276.7 Z"/></clipPath>
<path d="M176.6,2195.9 L243.9,2169.0 L243.9,2247.7 L176.6,2276.7 Z" fill="#fff"/>
<g clip-path="url(#sk1)" stroke="#000" stroke-width="2" fill="none"><path d="M-27.4,2155.9 l120,120"/><path d="M32.6,2155.9 l-120,120"/><path d="M-10.4,2155.9 l120,120"/><path d="M49.6,2155.9 l-120,120"/><path d="M6.6,2155.9 l120,120"/><path d="M66.6,2155.9 l-120,120"/><path d="M23.6,2155.9 l120,120"/><path d="M83.6,2155.9 l-120,120"/><path d="M40.6,2155.9 l120,120"/><path d="M100.6,2155.9 l-120,120"/><path d="M57.6,2155.9 l120,120"/><path d="M117.6,2155.9 l-120,120"/><path d="M74.6,2155.9 l120,120"/><path d="M134.6,2155.9 l-120,120"/><path d="M91.6,2155.9 l120,120"/><path d="M151.6,2155.9 l-120,120"/><path d="M108.6,2155.9 l120,120"/><path d="M168.6,2155.9 l-120,120"/><path d="M125.6,2155.9 l120,120"/><path d="M185.6,2155.9 l-120,120"/><path d="M142.6,2155.9 l120,120"/><path d="M202.6,2155.9 l-120,120"/><path d="M159.6,2155.9 l120,120"/><path d="M219.6,2155.9 l-120,120"/><path d="M176.6,2155.9 l120,120"/><path d="M236.6,2155.9 l-120,120"/><path d="M193.6,2155.9 l120,120"/><path d="M253.6,2155.9 l-120,120"/><path d="M210.6,2155.9 l120,120"/><path d="M270.6,2155.9 l-120,120"/><path d="M227.6,2155.9 l120,120"/><path d="M287.6,2155.9 l-120,120"/><path d="M244.6,2155.9 l120,120"/><path d="M304.6,2155.9 l-120,120"/><path d="M261.6,2155.9 l120,120"/><path d="M321.6,2155.9 l-120,120"/><path d="M278.6,2155.9 l120,120"/><path d="M338.6,2155.9 l-120,120"/><path d="M295.6,2155.9 l120,120"/><path d="M355.6,2155.9 l-120,120"/><path d="M312.6,2155.9 l120,120"/><path d="M372.6,2155.9 l-120,120"/><path d="M329.6,2155.9 l120,120"/><path d="M389.6,2155.9 l-120,120"/><path d="M346.6,2155.9 l120,120"/><path d="M406.6,2155.9 l-120,120"/><path d="M363.6,2155.9 l120,120"/><path d="M423.6,2155.9 l-120,120"/><path d="M380.6,2155.9 l120,120"/><path d="M440.6,2155.9 l-120,120"/><path d="M397.6,2155.9 l120,120"/><path d="M457.6,2155.9 l-120,120"/></g>
<path d="M176.6,2195.9 L243.9,2169.0 L243.9,2247.7 L176.6,2276.7 Z" fill="none" stroke="#000" stroke-width="6" stroke-linejoin="round"/>
<path class="M5" d="M203.5,2187.7 C192.1,2204.2 184.9,2224.9 185.5,2243.6 C185.9,2256.0 192.1,2262.2 200.4,2261.8 C217.0,2260.1 233.5,2237.3 237.2,2187.7"/>
<path class="M5" d="M229.4,2187.7 L233.5,2182.5 L238.7,2188.7"/>
<clipPath id="sk2"><path d="M314.9,2134.4 L382.2,2107.5 L382.2,2186.2 L314.9,2215.2 Z"/></clipPath>
<path d="M314.9,2134.4 L382.2,2107.5 L382.2,2186.2 L314.9,2215.2 Z" fill="#fff"/>
<g clip-path="url(#sk2)" stroke="#000" stroke-width="2" fill="none"><path d="M110.9,2094.4 l120,120"/><path d="M170.9,2094.4 l-120,120"/><path d="M127.9,2094.4 l120,120"/><path d="M187.9,2094.4 l-120,120"/><path d="M144.9,2094.4 l120,120"/><path d="M204.9,2094.4 l-120,120"/><path d="M161.9,2094.4 l120,120"/><path d="M221.9,2094.4 l-120,120"/><path d="M178.9,2094.4 l120,120"/><path d="M238.9,2094.4 l-120,120"/><path d="M195.9,2094.4 l120,120"/><path d="M255.9,2094.4 l-120,120"/><path d="M212.9,2094.4 l120,120"/><path d="M272.9,2094.4 l-120,120"/><path d="M229.9,2094.4 l120,120"/><path d="M289.9,2094.4 l-120,120"/><path d="M246.9,2094.4 l120,120"/><path d="M306.9,2094.4 l-120,120"/><path d="M263.9,2094.4 l120,120"/><path d="M323.9,2094.4 l-120,120"/><path d="M280.9,2094.4 l120,120"/><path d="M340.9,2094.4 l-120,120"/><path d="M297.9,2094.4 l120,120"/><path d="M357.9,2094.4 l-120,120"/><path d="M314.9,2094.4 l120,120"/><path d="M374.9,2094.4 l-120,120"/><path d="M331.9,2094.4 l120,120"/><path d="M391.9,2094.4 l-120,120"/><path d="M348.9,2094.4 l120,120"/><path d="M408.9,2094.4 l-120,120"/><path d="M365.9,2094.4 l120,120"/><path d="M425.9,2094.4 l-120,120"/><path d="M382.9,2094.4 l120,120"/><path d="M442.9,2094.4 l-120,120"/><path d="M399.9,2094.4 l120,120"/><path d="M459.9,2094.4 l-120,120"/><path d="M416.9,2094.4 l120,120"/><path d="M476.9,2094.4 l-120,120"/><path d="M433.9,2094.4 l120,120"/><path d="M493.9,2094.4 l-120,120"/><path d="M450.9,2094.4 l120,120"/><path d="M510.9,2094.4 l-120,120"/><path d="M467.9,2094.4 l120,120"/><path d="M527.9,2094.4 l-120,120"/><path d="M484.9,2094.4 l120,120"/><path d="M544.9,2094.4 l-120,120"/><path d="M501.9,2094.4 l120,120"/><path d="M561.9,2094.4 l-120,120"/><path d="M518.9,2094.4 l120,120"/><path d="M578.9,2094.4 l-120,120"/><path d="M535.9,2094.4 l120,120"/><path d="M595.9,2094.4 l-120,120"/></g>
<path d="M314.9,2134.4 L382.2,2107.5 L382.2,2186.2 L314.9,2215.2 Z" fill="none" stroke="#000" stroke-width="6" stroke-linejoin="round"/>
<path class="M5" d="M341.8,2126.2 C330.4,2142.7 323.2,2163.4 323.8,2182.1 C324.2,2194.5 330.4,2200.7 338.7,2200.3 C355.3,2198.6 371.8,2175.8 375.5,2126.2"/>
<path class="M5" d="M367.7,2126.2 L371.8,2121.0 L377.0,2127.2"/>
<path class="T" d="M209.7,2215.0 L209.7,2271.5"/>
<path class="T" d="M347.0,2153.0 L347.0,2211.5"/>
<path class="T" d="M619.6,279.7 L619.6,424.0"/>
<path class="T" d="M1198.5,19.6 L1198.5,163.0"/>
<path class="T" d="M2200.8,169.8 L2200.8,314.0"/>
<path class="T" d="M619.6,302.5 L1198.5,44.0"/>
<path class="A" d="M619.6,302.5 L670.0,270.7 L669.2,280.4 L676.9,286.2 Z"/>
<path class="A" d="M1198.5,44.0 L1148.1,75.8 L1148.9,66.1 L1141.2,60.3 Z"/>
<path class="T" d="M1198.5,44.0 L2200.8,193.0"/>
<path class="A" d="M1198.5,44.0 L1258.1,44.3 L1252.2,52.0 L1255.6,61.1 Z"/>
<path class="A" d="M2200.8,193.0 L2141.2,192.7 L2147.1,185.0 L2143.7,175.9 Z"/>
<path class="T" d="M1197.8,1179.7 L1975.8,1294.7"/>
<path class="A" d="M1197.8,1179.7 L1257.4,1180.0 L1251.5,1187.7 L1254.9,1196.9 Z"/>
<path class="A" d="M1692.5,1254.2 L1632.9,1253.8 L1638.9,1246.1 L1635.5,1237.0 Z"/>
<path class="A" d="M1783.9,1267.2 L1843.5,1267.2 L1837.6,1274.9 L1841.1,1284.0 Z"/>
<path class="T2" d="M1196.9,1154.0 L1197.8,1237.9"/>
<path class="T" d="M1691.6,1227.6 L1694.4,1387.9"/>
<path class="T" d="M1693.9,1227.6 L1695.8,1387.9"/>
<path class="T" d="M1783.9,1242.5 L1788.0,1400.0"/>
<path class="CL" d="M1198.2,1314.8 L1695.3,1391.6"/>
<path class="T" d="M1695.3,1391.6 L1788.5,1404.2"/>
<ellipse cx="1695.3" cy="1392.1" rx="5.8" ry="6.6" fill="#fff" stroke="#000" stroke-width="3.8"/>
<ellipse cx="1788.5" cy="1404.7" rx="5.8" ry="6.6" fill="#fff" stroke="#000" stroke-width="3.8"/>
<path class="T" d="M1355.3,1340.4 L1354.8,2163.5"/>
<path class="A" d="M1355.3,1340.4 L1363.7,1399.4 L1355.2,1394.7 L1346.7,1399.4 Z"/>
<path class="A" d="M1354.8,2163.5 L1346.3,2104.5 L1354.8,2109.2 L1363.3,2104.5 Z"/>
<path class="T" d="M1934.8,883.9 L1697.7,1387.9"/>
<path class="A" d="M1697.7,1387.9 L1715.1,1330.9 L1720.8,1338.8 L1730.5,1338.1 Z"/>
<path class="T" d="M1934.8,883.9 L1790.8,1400.9"/>
<path class="A" d="M1790.8,1400.9 L1798.5,1341.8 L1805.4,1348.6 L1814.8,1346.4 Z"/>
<path class="T" d="M1197.8,883.9 L1934.8,883.9"/>
<path class="T" d="M318.2,1645.8 L882.8,1645.8"/>
<path class="T" d="M318.2,1645.8 L209.7,2220.8"/>
<path class="A" d="M209.7,2220.8 L212.3,2161.2 L219.8,2167.5 L229.0,2164.4 Z"/>
<path class="T" d="M318.2,1645.8 L346.4,2158.7"/>
<path class="A" d="M346.4,2158.7 L334.7,2100.3 L343.4,2104.5 L351.6,2099.3 Z"/>
<path class="T" d="M619.6,1903.4 L348.4,2023.6"/>
<path class="A" d="M619.6,1903.4 L569.1,1935.1 L570.0,1925.4 L562.2,1919.5 Z"/>
<path class="A" d="M348.4,2023.6 L398.9,1991.9 L398.1,2001.6 L405.8,2007.5 Z"/>
<path class="T" d="M345.7,2001.3 L347.0,2210.9"/>
<path class="T" d="M349.4,2001.3 L349.4,2210.9"/>
<path class="T" d="M285.1,2192.3 L285.1,2549.6"/>
<path class="A" d="M285.1,2192.3 L293.6,2251.3 L285.1,2246.5 L276.6,2251.3 Z"/>
<path class="A" d="M285.1,2549.6 L276.6,2490.6 L285.1,2495.3 L293.6,2490.6 Z"/>
<path class="CS" d="M619.6,2040.9 L139.1,2257.5"/>
<path class="CF" d="M620.1,2401.6 L183.6,2598.3"/>
<path class="T" d="M2419.1,2204.8 L2262.1,2204.8 L2256.6,2336.7"/>
<path class="T" d="M2194.6,2370.7 L2320.4,2311.1"/>
<path class="A" d="M2194.6,2370.7 L2244.3,2337.7 L2243.6,2347.4 L2251.5,2353.1 Z"/>
<path class="A" d="M2320.4,2311.1 L2270.7,2344.0 L2271.3,2334.3 L2263.4,2328.6 Z"/>
<path class="T" d="M776.7,2332.3 L1479.8,2438.4"/>
<path class="A" d="M776.7,2332.3 L836.3,2332.7 L830.4,2340.4 L833.8,2349.5 Z"/>
<path class="A" d="M1479.8,2438.4 L1420.2,2438.0 L1426.2,2430.3 L1422.8,2421.2 Z"/>
<path class="T" d="M1066.5,2199.8 L754.7,2340.8"/>
<path class="T3" d="M864.7,2292.4 L754.7,2340.8"/>
<path class="T" d="M1828.9,2584.5 L2540.2,2584.5"/>
<path class="T" d="M1828.9,2584.5 L1773.3,2307.2"/>
<path class="A" d="M1773.3,2307.2 L1793.2,2363.3 L1784.0,2360.4 L1776.6,2366.7 Z"/>
<path class="T" d="M1828.9,2584.5 L1903.5,2218.4"/>
<path class="A" d="M1903.5,2218.4 L1900.0,2277.9 L1892.7,2271.6 L1883.4,2274.5 Z"/>
<text class="lbl" transform="translate(342.4,1615.5)" font-size="78.0" text-anchor="start" >подключение</text>
<text class="lbl" transform="translate(342.4,1721.3)" font-size="78.0" text-anchor="start" >электричества</text>
<text class="lbl" transform="translate(1223.4,855.0)" font-size="78.0" text-anchor="start" >подводка холодной</text>
<text class="lbl" transform="translate(1223.4,958.4)" font-size="78.0" text-anchor="start" >и горячей воды</text>
<text class="lbl" transform="translate(1853.6,2553.3)" font-size="78.0" text-anchor="start" >варианты подвода</text>
<text class="lbl" transform="translate(1854.5,2660.4)" font-size="78.0" text-anchor="start" >канализации</text>
<text class="wm" transform="translate(2002.7,126.7)" font-size="60.5" text-anchor="start" >radomir-online</text>
<text class="dim" transform="matrix(0.6218,-0.2778,0.0722,1.0000,889.7,147.6)" font-size="87.4" text-anchor="middle" letter-spacing="-6.39" stroke-width="1.80">1230</text>
<text class="dim" transform="matrix(0.6532,0.0991,-0.4505,0.8540,1699.0,86.5)" font-size="87.4" text-anchor="middle" letter-spacing="-6.39" stroke-width="1.80">1230</text>
<text class="dim" transform="matrix(0.7336,0.1113,-0.4505,0.8540,1439.0,1182.3)" font-size="87.4" text-anchor="middle" letter-spacing="-6.39" stroke-width="1.80">650</text>
<text class="dim" transform="matrix(0.6231,0.0945,-0.4505,0.8540,1905.0,1252.2)" font-size="87.4" text-anchor="middle" letter-spacing="-6.39" stroke-width="1.80">100</text>
<text class="dim" transform="matrix(0.6403,-0.2861,0.0722,1.0000,463.0,1937.5)" font-size="87.4" text-anchor="middle" letter-spacing="-6.39" stroke-width="2.40">500</text>
<path class="W" d="M1059.3,2335.2 L1201.6,2356.8 L1230.3,2302.4 L1088.0,2280.8 Z"/>
<text class="dim" transform="matrix(0.6633,0.1006,-0.4505,0.8540,1127.0,2352.5)" font-size="87.4" text-anchor="middle" letter-spacing="-6.39" stroke-width="1.90">1050</text>
<text class="dim" transform="matrix(0.6302,0.0000,-0.3124,0.9231,2339.0,2174.4)" font-size="87.4" text-anchor="middle" letter-spacing="-6.39" stroke-width="1.70">150</text>
<text class="dim" transform="matrix(0.0000,-0.7888,0.9137,0.2512,1324.6,1755.0)" font-size="87.4" text-anchor="middle" letter-spacing="-6.39" stroke-width="1.80">800</text>
<text class="dim" transform="matrix(0.0000,-0.7786,0.9042,0.2276,253.8,2352.0)" font-size="87.4" text-anchor="middle" letter-spacing="-6.39" stroke-width="2.00">300</text>
<text class="dim" style="font-weight:400;filter:grayscale(1)" transform="matrix(0,-0.9,0.9,0.22,256,2427)" font-size="50" text-anchor="middle" stroke-width="0.6">≈</text>
</svg></body></html>
